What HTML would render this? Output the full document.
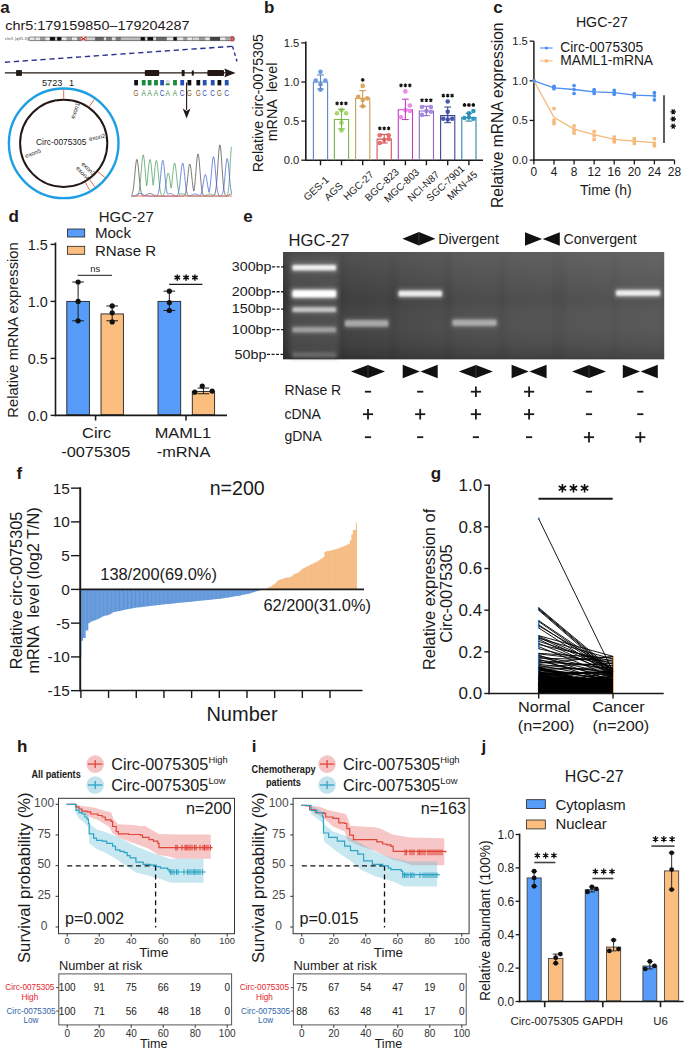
<!DOCTYPE html>
<html><head><meta charset="utf-8"><title>Figure</title>
<style>
html,body{margin:0;padding:0;background:#fff;}
svg{display:block;font-family:"Liberation Sans", sans-serif;}
</style></head><body>
<svg width="685" height="1049" viewBox="0 0 685 1049">
<rect x="0" y="0" width="685" height="1049" fill="#fff"/>
<text x="0.30" y="13.20" font-size="17" text-anchor="start" fill="#231815" font-weight="bold">a</text>
<text x="0" y="0" font-size="13.4" text-anchor="start" fill="#231815" transform="translate(5.30 29.90) scale(1.075 1)">chr5:179159850–179204287</text>
<text x="5.00" y="40.30" font-size="3.8" text-anchor="start" fill="#333" letter-spacing="0.25">chr5 (q35.3)</text>
<rect x="28.60" y="37.00" width="205.80" height="3.60" fill="#8a8a8a" stroke="none" stroke-width="1"/>
<rect x="29.30" y="37.00" width="5.20" height="3.60" fill="#e6e6e6" stroke="none" stroke-width="1"/>
<rect x="35.40" y="37.00" width="4.80" height="3.60" fill="#e6e6e6" stroke="none" stroke-width="1"/>
<rect x="40.20" y="37.00" width="5.20" height="3.60" fill="#9a9a9a" stroke="none" stroke-width="1"/>
<rect x="45.40" y="37.00" width="4.30" height="3.60" fill="#e6e6e6" stroke="none" stroke-width="1"/>
<rect x="50.10" y="37.00" width="4.80" height="3.60" fill="#111" stroke="none" stroke-width="1"/>
<rect x="55.40" y="37.00" width="1.40" height="3.60" fill="#ddd" stroke="none" stroke-width="1"/>
<rect x="57.30" y="37.00" width="3.70" height="3.60" fill="#111" stroke="none" stroke-width="1"/>
<rect x="62.00" y="37.00" width="4.70" height="3.60" fill="#e6e6e6" stroke="none" stroke-width="1"/>
<rect x="67.20" y="37.00" width="4.30" height="3.60" fill="#a0a0a0" stroke="none" stroke-width="1"/>
<rect x="72.00" y="37.00" width="5.20" height="3.60" fill="#e6e6e6" stroke="none" stroke-width="1"/>
<rect x="77.70" y="37.00" width="2.80" height="3.60" fill="#888" stroke="none" stroke-width="1"/>
<rect x="86.50" y="37.00" width="8.70" height="3.60" fill="#cfcfcf" stroke="none" stroke-width="1"/>
<rect x="95.20" y="37.00" width="8.20" height="3.60" fill="#666" stroke="none" stroke-width="1"/>
<rect x="104.00" y="37.00" width="2.30" height="3.60" fill="#ddd" stroke="none" stroke-width="1"/>
<rect x="106.30" y="37.00" width="5.20" height="3.60" fill="#777" stroke="none" stroke-width="1"/>
<rect x="112.00" y="37.00" width="3.60" height="3.60" fill="#e0e0e0" stroke="none" stroke-width="1"/>
<rect x="116.00" y="37.00" width="4.50" height="3.60" fill="#777" stroke="none" stroke-width="1"/>
<rect x="121.00" y="37.00" width="19.70" height="3.60" fill="#bdbdbd" stroke="none" stroke-width="1"/>
<rect x="140.70" y="37.00" width="4.10" height="3.60" fill="#111" stroke="none" stroke-width="1"/>
<rect x="145.40" y="37.00" width="1.80" height="3.60" fill="#ddd" stroke="none" stroke-width="1"/>
<rect x="147.70" y="37.00" width="5.30" height="3.60" fill="#111" stroke="none" stroke-width="1"/>
<rect x="153.50" y="37.00" width="2.50" height="3.60" fill="#ddd" stroke="none" stroke-width="1"/>
<rect x="156.00" y="37.00" width="10.80" height="3.60" fill="#6a6a6a" stroke="none" stroke-width="1"/>
<rect x="166.80" y="37.00" width="6.20" height="3.60" fill="#e6e6e6" stroke="none" stroke-width="1"/>
<rect x="173.60" y="37.00" width="3.10" height="3.60" fill="#111" stroke="none" stroke-width="1"/>
<rect x="177.30" y="37.00" width="6.20" height="3.60" fill="#e6e6e6" stroke="none" stroke-width="1"/>
<rect x="183.50" y="37.00" width="3.50" height="3.60" fill="#999" stroke="none" stroke-width="1"/>
<rect x="187.30" y="37.00" width="4.90" height="3.60" fill="#e6e6e6" stroke="none" stroke-width="1"/>
<rect x="192.80" y="37.00" width="6.20" height="3.60" fill="#d5d5d5" stroke="none" stroke-width="1"/>
<rect x="199.00" y="37.00" width="6.00" height="3.60" fill="#999" stroke="none" stroke-width="1"/>
<rect x="205.20" y="37.00" width="4.40" height="3.60" fill="#e6e6e6" stroke="none" stroke-width="1"/>
<rect x="210.20" y="37.00" width="9.90" height="3.60" fill="#444" stroke="none" stroke-width="1"/>
<rect x="220.10" y="37.00" width="5.60" height="3.60" fill="#e6e6e6" stroke="none" stroke-width="1"/>
<rect x="225.70" y="37.00" width="5.30" height="3.60" fill="#aaa" stroke="none" stroke-width="1"/>
<rect x="28.60" y="37.00" width="205.80" height="3.60" fill="none" stroke="#333" stroke-width="0.5" rx="1.5"/>
<path d="M80.8,37 L83.3,38.8 L85.8,37 L85.8,40.6 L83.3,38.8 L80.8,40.6 Z" fill="#b22" stroke="none" stroke-width="1"/>
<rect x="80.80" y="37.00" width="5.00" height="3.60" fill="#fff" stroke="none" stroke-width="1"/>
<path d="M80.8,37 L83.3,38.8 L85.8,37 M80.8,40.6 L83.3,38.8 L85.8,40.6" fill="none" stroke="#c33" stroke-width="1.2"/>
<rect x="231.20" y="36.60" width="2.20" height="4.40" fill="none" stroke="#e33" stroke-width="0.8"/>
<line x1="4.90" y1="62.20" x2="232.50" y2="46.30" stroke="#2b2f8f" stroke-width="1.4" stroke-dasharray="5.3 3.6"/>
<line x1="232.50" y1="46.30" x2="237.00" y2="61.50" stroke="#2b2f8f" stroke-width="1.4" stroke-dasharray="3.5 3"/>
<line x1="4.90" y1="72.90" x2="228.00" y2="72.90" stroke="#231815" stroke-width="1.1"/>
<rect x="16.10" y="70.10" width="5.80" height="5.80" fill="#231815" stroke="none" stroke-width="1"/>
<rect x="144.80" y="70.00" width="14.40" height="6.10" fill="#231815" stroke="none" stroke-width="1" rx="1"/>
<rect x="181.70" y="70.00" width="2.90" height="6.10" fill="#231815" stroke="none" stroke-width="1"/>
<rect x="191.80" y="70.50" width="2.00" height="5.10" fill="#231815" stroke="none" stroke-width="1"/>
<rect x="207.40" y="70.00" width="16.60" height="6.10" fill="#231815" stroke="none" stroke-width="1" rx="1"/>
<path d="M224.4,68.6 L235.6,72.9 L224.4,77.2 L225.8,72.9 Z" fill="#231815" stroke="none" stroke-width="1"/>
<rect x="134.20" y="80.00" width="3.80" height="5.40" fill="#111" stroke="none" stroke-width="1"/>
<text x="0" y="0" font-size="8.8" text-anchor="middle" fill="#8a5a26" transform="translate(136.10 96.10) scale(0.74 1)">G</text>
<rect x="141.80" y="80.00" width="3.80" height="5.40" fill="#1a8a3c" stroke="none" stroke-width="1"/>
<text x="0" y="0" font-size="8.8" text-anchor="middle" fill="#2f8c42" transform="translate(143.70 96.10) scale(0.74 1)">A</text>
<rect x="147.70" y="80.00" width="3.80" height="5.40" fill="#1a8a3c" stroke="none" stroke-width="1"/>
<text x="0" y="0" font-size="8.8" text-anchor="middle" fill="#2f8c42" transform="translate(149.60 96.10) scale(0.74 1)">A</text>
<rect x="154.10" y="80.00" width="3.80" height="5.40" fill="#1a8a3c" stroke="none" stroke-width="1"/>
<text x="0" y="0" font-size="8.8" text-anchor="middle" fill="#2f8c42" transform="translate(156.00 96.10) scale(0.74 1)">A</text>
<rect x="160.20" y="80.00" width="3.80" height="5.40" fill="#2450b8" stroke="none" stroke-width="1"/>
<text x="0" y="0" font-size="8.8" text-anchor="middle" fill="#2e4abc" transform="translate(162.10 96.10) scale(0.74 1)">C</text>
<rect x="165.80" y="80.00" width="3.80" height="3.20" fill="#ddd" stroke="none" stroke-width="1"/>
<rect x="165.80" y="83.40" width="3.80" height="1.80" fill="#1a8a3c" stroke="none" stroke-width="1"/>
<text x="0" y="0" font-size="8.8" text-anchor="middle" fill="#2f8c42" transform="translate(167.70 96.10) scale(0.74 1)">A</text>
<rect x="173.10" y="80.00" width="3.80" height="5.40" fill="#1a8a3c" stroke="none" stroke-width="1"/>
<text x="0" y="0" font-size="8.8" text-anchor="middle" fill="#2f8c42" transform="translate(175.00 96.10) scale(0.74 1)">A</text>
<rect x="180.30" y="80.00" width="3.80" height="5.40" fill="#2450b8" stroke="none" stroke-width="1"/>
<text x="0" y="0" font-size="8.8" text-anchor="middle" fill="#2e4abc" transform="translate(182.20 96.10) scale(0.74 1)">C</text>
<rect x="187.50" y="80.00" width="3.80" height="5.40" fill="#111" stroke="none" stroke-width="1"/>
<text x="0" y="0" font-size="8.8" text-anchor="middle" fill="#8a5a26" transform="translate(189.40 96.10) scale(0.74 1)">G</text>
<rect x="196.40" y="80.00" width="3.80" height="5.40" fill="#111" stroke="none" stroke-width="1"/>
<text x="0" y="0" font-size="8.8" text-anchor="middle" fill="#8a5a26" transform="translate(198.30 96.10) scale(0.74 1)">G</text>
<rect x="202.80" y="80.00" width="3.80" height="5.40" fill="#2450b8" stroke="none" stroke-width="1"/>
<text x="0" y="0" font-size="8.8" text-anchor="middle" fill="#2e4abc" transform="translate(204.70 96.10) scale(0.74 1)">C</text>
<rect x="210.80" y="80.00" width="3.80" height="5.40" fill="#2450b8" stroke="none" stroke-width="1"/>
<text x="0" y="0" font-size="8.8" text-anchor="middle" fill="#2e4abc" transform="translate(212.70 96.10) scale(0.74 1)">C</text>
<rect x="217.50" y="80.00" width="3.80" height="5.40" fill="#111" stroke="none" stroke-width="1"/>
<text x="0" y="0" font-size="8.8" text-anchor="middle" fill="#8a5a26" transform="translate(219.40 96.10) scale(0.74 1)">G</text>
<rect x="224.80" y="80.00" width="3.80" height="5.40" fill="#2450b8" stroke="none" stroke-width="1"/>
<text x="0" y="0" font-size="8.8" text-anchor="middle" fill="#2e4abc" transform="translate(226.70 96.10) scale(0.74 1)">C</text>
<line x1="186.60" y1="82.50" x2="186.60" y2="110.00" stroke="#231815" stroke-width="1.1"/>
<path d="M182.7,108.5 L186.6,118.5 L190.5,108.5 L186.6,111 Z" fill="#231815" stroke="none" stroke-width="1"/>
<circle cx="63.70" cy="143.30" r="54.80" fill="none" stroke="#1e9fe3" stroke-width="2.4"/>
<circle cx="63.70" cy="143.30" r="43.60" fill="none" stroke="#231815" stroke-width="2.0"/>
<line x1="63.70" y1="98.70" x2="63.70" y2="89.70" stroke="#ee6a3c" stroke-width="1.0"/>
<line x1="89.22" y1="106.72" x2="94.37" y2="99.34" stroke="#ee6a3c" stroke-width="1.0"/>
<line x1="98.02" y1="171.79" x2="104.94" y2="177.54" stroke="#ee6a3c" stroke-width="1.0"/>
<line x1="89.66" y1="179.56" x2="94.90" y2="186.88" stroke="#ee6a3c" stroke-width="1.0"/>
<line x1="85.32" y1="182.31" x2="89.69" y2="190.18" stroke="#ee6a3c" stroke-width="1.0"/>
<text x="42.00" y="85.90" font-size="9.2" text-anchor="start" fill="#231815">5723</text>
<text x="69.00" y="85.90" font-size="9.2" text-anchor="start" fill="#231815">1</text>
<text x="61.20" y="144.60" font-size="8.4" text-anchor="middle" fill="#231815">Circ-0075305</text>
<text x="74.30" y="119.00" font-size="6.0" text-anchor="start" fill="#231815" transform="rotate(-70 74.3 119.0)">exon1</text>
<text x="89.60" y="141.00" font-size="6.0" text-anchor="start" fill="#231815" transform="rotate(-12 89.6 141.0)">exon2</text>
<text x="81.00" y="164.60" font-size="6.0" text-anchor="start" fill="#231815" transform="rotate(43 81.0 164.6)">exon3</text>
<text x="75.80" y="168.60" font-size="6.0" text-anchor="start" fill="#231815" transform="rotate(47 75.8 168.6)">exon4</text>
<text x="26.00" y="158.00" font-size="6.0" text-anchor="start" fill="#231815" transform="rotate(-20 26.0 158.0)">exon5</text>
<polyline points="131.50,195.24 131.89,194.61 132.27,193.67 132.66,192.32 133.04,190.47 133.43,188.04 133.81,185.00 134.20,181.40 134.59,177.35 134.97,173.08 135.36,168.87 135.74,165.07 136.13,162.03 136.51,160.08 136.90,159.40 137.29,160.08 137.67,162.04 138.06,165.08 138.44,168.88 138.83,173.09 139.22,177.37 139.60,181.42 139.99,185.02 140.37,188.05 140.76,190.48 141.14,192.33 141.53,193.68 141.92,194.61 142.30,195.24 142.69,195.64 143.07,195.89 143.46,195.95 143.84,195.87 144.23,195.78 144.62,195.66 145.00,195.53 145.39,195.37 145.77,195.20 146.16,195.01 146.55,194.81 146.93,194.60 147.32,194.39 147.70,194.19 148.09,194.00 148.47,193.83 148.86,193.69 149.25,193.58 149.63,193.52 150.02,193.50 150.40,193.52 150.79,193.59 151.17,193.70 151.56,193.84 151.95,194.01 152.33,194.20 152.72,194.41 153.10,194.62 153.49,194.83 153.87,195.03 154.26,195.22 154.65,195.39 155.03,195.54 155.42,195.67 155.80,195.78 156.19,195.88 156.57,195.96 156.96,196.02 157.35,196.07 157.73,196.10 158.12,196.13 158.50,196.15 158.89,196.17 159.28,196.18 159.66,196.18 160.05,196.19 160.43,196.19 160.82,196.20 161.20,196.20 161.59,196.20 161.98,196.20 162.36,196.20 162.75,196.20 163.13,196.20 163.52,196.20 163.90,196.20 164.29,196.20 164.68,196.20 165.06,196.20 165.45,196.20 165.83,196.20 166.22,196.20 166.61,196.20 166.99,196.20 167.38,196.20 167.76,196.20 168.15,196.20 168.53,196.20 168.92,196.20 169.31,196.20 169.69,196.20 170.08,196.20 170.46,196.20 170.85,196.20 171.23,196.20 171.62,196.20 172.01,196.20 172.39,196.20 172.78,196.20 173.16,196.20 173.55,196.20 173.93,196.20 174.32,196.20 174.71,196.20 175.09,196.20 175.48,196.20 175.86,196.20 176.25,196.20 176.63,196.20 177.02,196.20 177.41,196.20 177.79,196.20 178.18,196.20 178.56,196.20 178.95,196.20 179.34,196.20 179.72,196.20 180.11,196.20 180.49,196.20 180.88,196.20 181.26,196.20 181.65,196.19 182.04,196.18 182.42,196.16 182.81,196.13 183.19,196.06 183.58,195.94 183.96,195.74 184.35,195.41 184.74,194.89 185.12,194.11 185.51,192.98 185.89,191.42 186.28,189.36 186.67,186.77 187.05,183.68 187.44,180.18 187.82,176.45 188.21,172.74 188.59,169.35 188.98,166.60 189.37,164.75 189.75,164.01 190.14,164.45 190.52,166.04 190.91,168.58 191.29,171.84 191.68,175.50 192.07,179.25 192.45,182.83 192.84,186.04 193.22,188.76 193.61,190.95 193.99,190.51 194.38,187.98 194.77,184.75 195.15,180.85 195.54,176.38 195.92,171.53 196.31,166.61 196.69,162.01 197.08,158.14 197.47,155.38 197.85,154.02 198.24,154.20 198.62,155.91 199.01,158.96 199.40,163.04 199.78,167.75 200.17,172.68 200.55,177.47 200.94,181.83 201.32,185.57 201.71,188.63 202.10,191.00 202.48,192.76 202.87,194.01 203.25,194.86 203.64,195.41 204.02,195.75 204.41,195.95 204.80,196.07 205.18,196.13 205.57,196.17 205.95,196.18 206.34,196.19 206.73,196.20 207.11,196.20 207.50,196.20 207.88,196.20 208.27,196.20 208.65,196.20 209.04,196.20 209.43,196.20 209.81,196.20 210.20,196.20 210.58,196.20 210.97,196.20 211.35,196.19 211.74,196.19 212.13,196.17 212.51,196.14 212.90,196.09 213.28,195.98 213.67,195.80 214.05,195.48 214.44,194.96 214.83,194.14 215.21,192.91 215.60,191.12 215.98,188.64 216.37,185.38 216.75,181.27 217.14,176.35 217.53,170.78 217.91,164.83 218.30,158.90 218.68,153.48 219.07,149.04 219.46,146.05 219.84,144.82 220.23,145.48 220.61,147.96 221.00,152.00 221.38,157.17 221.77,163.00 222.16,168.99 222.54,174.71 222.93,179.85 223.31,184.22 223.70,187.74 224.08,190.44 224.47,192.42 224.86,193.81 225.24,194.75 225.63,195.35 226.01,195.72 226.40,195.94 226.79,195.96 227.17,195.85 227.56,195.70 227.94,195.52 228.33,195.30 228.71,195.06 229.10,194.80 229.49,194.55 229.87,194.32 230.26,194.15 230.64,194.03 231.03,194.00 231.41,194.05 231.80,194.17" fill="none" stroke="#444" stroke-width="0.7"/>
<polyline points="131.50,196.20 131.89,196.20 132.27,196.20 132.66,196.20 133.04,196.20 133.43,196.20 133.81,196.20 134.20,196.20 134.59,196.20 134.97,196.19 135.36,196.18 135.74,196.16 136.13,196.12 136.51,196.04 136.90,195.91 137.29,195.68 137.67,195.29 138.06,194.68 138.44,193.75 138.83,192.40 139.22,190.51 139.60,188.00 139.99,184.81 140.37,180.96 140.76,176.55 141.14,171.79 141.53,166.99 141.92,162.51 142.30,158.77 142.69,156.14 143.07,154.88 143.46,155.15 143.84,156.90 144.23,159.95 144.62,163.98 145.00,168.61 145.39,173.44 145.77,178.11 146.16,182.34 146.55,185.98 146.93,184.86 147.32,181.24 147.70,177.18 148.09,172.90 148.47,168.70 148.86,164.92 149.25,161.93 149.63,160.02 150.02,159.40 150.40,160.14 150.79,162.15 151.17,165.23 151.56,169.05 151.95,173.27 152.33,177.55 152.72,181.58 153.10,185.16 153.49,183.75 153.87,180.02 154.26,175.94 154.65,171.76 155.03,167.79 155.42,164.38 155.80,161.86 156.19,160.50 156.57,160.44 156.96,161.68 157.35,164.10 157.73,167.44 158.12,171.38 158.50,175.56 158.89,179.66 159.28,183.43 159.66,186.70 160.05,189.39 160.43,191.50 160.82,193.07 161.20,194.19 161.59,194.96 161.98,195.46 162.36,195.78 162.75,195.64 163.13,195.26 163.52,194.70 163.90,193.89 164.29,192.77 164.68,191.29 165.06,189.43 165.45,187.20 165.83,184.68 166.22,181.99 166.61,179.32 166.99,176.88 167.38,174.89 167.76,173.55 168.15,173.01 168.53,173.32 168.92,174.45 169.31,176.29 169.69,178.63 170.08,181.26 170.46,183.97 170.85,186.55 171.23,188.14 171.62,185.26 172.01,181.89 172.39,178.15 172.78,174.28 173.16,170.55 173.55,167.28 173.93,164.79 174.32,163.32 174.71,163.05 175.09,163.99 175.48,166.05 175.86,169.01 176.25,172.57 176.63,176.42 177.02,180.24 177.41,183.80 177.79,186.91 178.18,189.50 178.56,191.54 178.95,193.08 179.34,194.19 179.72,194.40 180.11,194.23 180.49,194.08 180.88,193.96 181.26,193.87 181.65,193.82 182.04,193.80 182.42,193.82 182.81,193.89 183.19,193.98 183.58,194.11 183.96,194.26 184.35,194.43 184.74,194.62 185.12,194.80 185.51,194.99 185.89,195.17 186.28,195.33 186.67,195.48 187.05,195.62 187.44,195.74 187.82,195.83 188.21,195.92 188.59,195.99 188.98,196.04 189.37,196.08 189.75,196.11 190.14,196.14 190.52,196.16 190.91,196.17 191.29,196.18 191.68,196.19 192.07,196.19 192.45,196.19 192.84,196.20 193.22,196.20 193.61,196.20 193.99,196.20 194.38,196.20 194.77,196.20 195.15,196.20 195.54,196.20 195.92,196.20 196.31,196.20 196.69,196.20 197.08,196.20 197.47,196.20 197.85,196.20 198.24,196.20 198.62,196.20 199.01,196.20 199.40,196.20 199.78,196.19 200.17,196.19 200.55,196.18 200.94,196.18 201.32,196.17 201.71,196.15 202.10,196.13 202.48,196.10 202.87,196.07 203.25,196.02 203.64,195.97 204.02,195.90 204.41,195.81 204.80,195.71 205.18,195.59 205.57,195.46 205.95,195.31 206.34,195.16 206.73,194.99 207.11,194.82 207.50,194.65 207.88,194.49 208.27,194.34 208.65,194.21 209.04,194.11 209.43,194.04 209.81,194.00 210.20,194.00 210.58,194.04 210.97,194.11 211.35,194.21 211.74,194.34 212.13,194.49 212.51,194.65 212.90,194.82 213.28,194.99 213.67,195.16 214.05,195.32 214.44,195.46 214.83,195.60 215.21,195.71 215.60,195.81 215.98,195.90 216.37,195.97 216.75,196.03 217.14,196.07 217.53,196.11 217.91,196.13 218.30,196.15 218.68,196.17 219.07,196.18 219.46,196.18 219.84,196.19 220.23,196.19 220.61,196.20 221.00,196.20 221.38,196.20 221.77,196.20 222.16,196.20 222.54,196.20 222.93,196.20 223.31,196.20 223.70,196.20 224.08,196.20 224.47,196.20 224.86,196.19 225.24,196.19 225.63,196.16 226.01,196.11 226.40,195.99 226.79,195.76 227.17,195.30 227.56,194.47 227.94,193.05 228.33,190.82 228.71,187.51 229.10,182.96 229.49,177.17 229.87,170.39 230.26,163.18 230.64,156.33 231.03,150.78 231.41,147.38 231.80,146.70" fill="none" stroke="#3f9a52" stroke-width="0.7"/>
<polyline points="131.50,196.15 131.89,196.13 132.27,196.10 132.66,196.06 133.04,196.02 133.43,195.95 133.81,195.88 134.20,195.78 134.59,195.67 134.97,195.54 135.36,195.38 135.74,195.21 136.13,195.03 136.51,194.82 136.90,194.62 137.29,194.41 137.67,194.20 138.06,194.01 138.44,193.84 138.83,193.70 139.22,193.59 139.60,193.52 139.99,193.50 140.37,193.52 140.76,193.58 141.14,193.69 141.53,193.83 141.92,194.00 142.30,194.19 142.69,194.39 143.07,194.60 143.46,194.81 143.84,195.01 144.23,195.20 144.62,195.37 145.00,195.53 145.39,195.66 145.77,195.78 146.16,195.87 146.55,195.95 146.93,196.01 147.32,196.06 147.70,196.10 148.09,196.13 148.47,196.15 148.86,196.17 149.25,196.18 149.63,196.18 150.02,196.19 150.40,196.19 150.79,196.20 151.17,196.20 151.56,196.20 151.95,196.20 152.33,196.20 152.72,196.20 153.10,196.20 153.49,196.20 153.87,196.20 154.26,196.20 154.65,196.19 155.03,196.18 155.42,196.16 155.80,196.12 156.19,196.05 156.57,195.92 156.96,195.69 157.35,195.33 157.73,194.75 158.12,193.88 158.50,192.63 158.89,190.89 159.28,188.60 159.66,185.72 160.05,182.28 160.43,178.38 160.82,174.22 161.20,170.09 161.59,166.30 161.98,163.22 162.36,161.15 162.75,160.31 163.13,160.79 163.52,162.55 163.90,165.38 164.29,169.00 164.68,173.08 165.06,177.26 165.45,181.25 165.83,184.84 166.22,187.87 166.61,190.32 166.99,192.20 167.38,193.58 167.76,194.16 168.15,193.97 168.53,193.80 168.92,193.67 169.31,193.57 169.69,193.51 170.08,193.50 170.46,193.53 170.85,193.61 171.23,193.72 171.62,193.87 172.01,194.04 172.39,194.23 172.78,194.44 173.16,194.65 173.55,194.86 173.93,195.06 174.32,195.24 174.71,195.41 175.09,195.56 175.48,195.69 175.86,195.80 176.25,195.89 176.63,195.87 177.02,195.61 177.41,195.20 177.79,194.56 178.18,193.62 178.56,192.29 178.95,190.48 179.34,188.14 179.72,185.25 180.11,181.87 180.49,178.14 180.88,174.27 181.26,170.54 181.65,167.27 182.04,164.78 182.42,163.32 182.81,163.05 183.19,163.99 183.58,166.06 183.96,169.02 184.35,172.58 184.74,176.43 185.12,180.25 185.51,183.81 185.89,186.92 186.28,189.51 186.67,191.55 187.05,193.08 187.44,194.19 187.82,194.95 188.21,195.45 188.59,195.77 188.98,195.91 189.37,195.82 189.75,195.72 190.14,195.61 190.52,195.48 190.91,195.33 191.29,195.17 191.68,195.01 192.07,194.84 192.45,194.67 192.84,194.50 193.22,194.35 193.61,194.22 193.99,194.12 194.38,194.05 194.77,194.01 195.15,194.00 195.54,194.04 195.92,194.10 196.31,194.20 196.69,194.32 197.08,194.47 197.47,194.63 197.85,194.80 198.24,194.97 198.62,195.14 199.01,195.30 199.40,195.45 199.78,195.58 200.17,195.39 200.55,194.90 200.94,194.19 201.32,193.19 201.71,191.87 202.10,190.19 202.48,188.16 202.87,185.84 203.25,183.35 203.64,180.83 204.02,178.49 204.41,176.54 204.80,175.18 205.18,174.54 205.57,174.69 205.95,175.63 206.34,177.24 206.73,179.36 207.11,181.80 207.50,184.33 207.88,186.77 208.27,188.99 208.65,190.88 209.04,192.42 209.43,191.23 209.81,188.97 210.20,186.07 210.58,182.53 210.97,178.43 211.35,173.93 211.74,169.31 212.13,164.93 212.51,161.15 212.90,158.36 213.28,156.83 213.67,156.74 214.05,158.09 214.44,160.74 214.83,164.42 215.21,168.75 215.60,173.35 215.98,177.88 216.37,182.05 216.75,185.67 217.14,188.65 217.53,190.98 217.91,192.73 218.30,193.97 218.68,194.82 219.07,195.38 219.46,195.73 219.84,195.94 220.23,196.06 220.61,196.03 221.00,195.89 221.38,195.65 221.77,195.25 222.16,194.63 222.54,193.70 222.93,192.35 223.31,190.50 223.70,188.06 224.08,184.99 224.47,181.35 224.86,177.23 225.24,172.85 225.63,168.52 226.01,164.58 226.40,161.40 226.79,159.30 227.17,158.50 227.56,159.09 227.94,161.01 228.33,164.04 228.71,167.89 229.10,172.19 229.49,176.58 229.87,180.75 230.26,184.48 230.64,187.63 231.03,190.17 231.41,192.11 231.80,193.52" fill="none" stroke="#3a5ccc" stroke-width="0.7"/>
<line x1="131.50" y1="196.00" x2="231.80" y2="196.00" stroke="#e86a6a" stroke-width="1.0"/>
<text x="264.00" y="13.00" font-size="17" text-anchor="start" fill="#231815" font-weight="bold">b</text>
<line x1="305.80" y1="41.60" x2="305.80" y2="160.95" stroke="#1a1a1a" stroke-width="1.6"/>
<line x1="305.00" y1="160.20" x2="483.00" y2="160.20" stroke="#1a1a1a" stroke-width="1.6"/>
<line x1="301.30" y1="160.20" x2="305.80" y2="160.20" stroke="#1a1a1a" stroke-width="1.3"/>
<text x="299.30" y="164.00" font-size="11.2" text-anchor="end" fill="#1a1a1a">0.0</text>
<line x1="301.30" y1="121.10" x2="305.80" y2="121.10" stroke="#1a1a1a" stroke-width="1.3"/>
<text x="299.30" y="124.90" font-size="11.2" text-anchor="end" fill="#1a1a1a">0.5</text>
<line x1="301.30" y1="82.00" x2="305.80" y2="82.00" stroke="#1a1a1a" stroke-width="1.3"/>
<text x="299.30" y="85.80" font-size="11.2" text-anchor="end" fill="#1a1a1a">1.0</text>
<line x1="301.30" y1="42.90" x2="305.80" y2="42.90" stroke="#1a1a1a" stroke-width="1.3"/>
<text x="299.30" y="46.70" font-size="11.2" text-anchor="end" fill="#1a1a1a">1.5</text>
<text x="263.00" y="103.20" font-size="14.3" text-anchor="middle" fill="#1a1a1a" transform="rotate(-90 263.0 103.2)">Relative circ-0075305</text>
<text x="277.40" y="102.00" font-size="14.3" text-anchor="middle" fill="#1a1a1a" transform="rotate(-90 277.4 102.0)" xml:space="preserve">mRNA  level</text>
<path d="M313.40,160.20 L313.40,82.00 L327.60,82.00 L327.60,160.20" fill="none" stroke="#5b86c8" stroke-width="1.1"/>
<circle cx="320.50" cy="71.83" r="2.30" fill="#6d9be0" stroke="none" stroke-width="1"/>
<circle cx="315.70" cy="80.44" r="2.30" fill="#6d9be0" stroke="none" stroke-width="1"/>
<circle cx="325.30" cy="80.44" r="2.30" fill="#6d9be0" stroke="none" stroke-width="1"/>
<circle cx="320.50" cy="84.35" r="2.30" fill="#6d9be0" stroke="none" stroke-width="1"/>
<circle cx="320.50" cy="89.82" r="2.30" fill="#6d9be0" stroke="none" stroke-width="1"/>
<line x1="320.50" y1="74.96" x2="320.50" y2="89.04" stroke="#5b86c8" stroke-width="1.1"/>
<line x1="317.10" y1="74.96" x2="323.90" y2="74.96" stroke="#5b86c8" stroke-width="1.1"/>
<line x1="317.10" y1="89.04" x2="323.90" y2="89.04" stroke="#5b86c8" stroke-width="1.1"/>
<line x1="320.50" y1="160.20" x2="320.50" y2="165.30" stroke="#1a1a1a" stroke-width="1.4"/>
<text x="318.50" y="191.00" font-size="10.1" text-anchor="middle" fill="#1a1a1a" transform="rotate(-43 318.5 191.0)">GES-1</text>
<path d="M334.40,160.20 L334.40,119.54 L348.60,119.54 L348.60,160.20" fill="none" stroke="#7ab648" stroke-width="1.1"/>
<circle cx="341.50" cy="110.15" r="2.30" fill="#a5d86e" stroke="none" stroke-width="1"/>
<circle cx="336.90" cy="113.28" r="2.30" fill="#a5d86e" stroke="none" stroke-width="1"/>
<circle cx="346.10" cy="113.28" r="2.30" fill="#a5d86e" stroke="none" stroke-width="1"/>
<circle cx="341.50" cy="122.66" r="2.30" fill="#a5d86e" stroke="none" stroke-width="1"/>
<circle cx="341.50" cy="130.48" r="2.30" fill="#a5d86e" stroke="none" stroke-width="1"/>
<line x1="341.50" y1="109.37" x2="341.50" y2="128.92" stroke="#7ab648" stroke-width="1.1"/>
<line x1="338.10" y1="109.37" x2="344.90" y2="109.37" stroke="#7ab648" stroke-width="1.1"/>
<line x1="338.10" y1="128.92" x2="344.90" y2="128.92" stroke="#7ab648" stroke-width="1.1"/>
<line x1="341.50" y1="160.20" x2="341.50" y2="165.30" stroke="#1a1a1a" stroke-width="1.4"/>
<path d="M337.10,101.52L337.10,105.22M335.50,102.44L338.70,104.29M338.70,102.44L335.50,104.29" fill="none" stroke="#111" stroke-width="1.25"/>
<circle cx="337.10" cy="103.37" r="0.70" fill="#111" stroke="none" stroke-width="1"/>
<path d="M341.50,101.52L341.50,105.22M339.90,102.44L343.10,104.29M343.10,102.44L339.90,104.29" fill="none" stroke="#111" stroke-width="1.25"/>
<circle cx="341.50" cy="103.37" r="0.70" fill="#111" stroke="none" stroke-width="1"/>
<path d="M345.90,101.52L345.90,105.22M344.30,102.44L347.50,104.29M347.50,102.44L344.30,104.29" fill="none" stroke="#111" stroke-width="1.25"/>
<circle cx="345.90" cy="103.37" r="0.70" fill="#111" stroke="none" stroke-width="1"/>
<text x="336.00" y="193.90" font-size="10.1" text-anchor="middle" fill="#1a1a1a" transform="rotate(-43 336.0 193.9)">AGS</text>
<path d="M355.60,160.20 L355.60,98.42 L369.80,98.42 L369.80,160.20" fill="none" stroke="#c99a5a" stroke-width="1.1"/>
<circle cx="362.70" cy="85.91" r="2.30" fill="#e0a75a" stroke="none" stroke-width="1"/>
<circle cx="358.20" cy="96.86" r="2.30" fill="#e0a75a" stroke="none" stroke-width="1"/>
<circle cx="367.20" cy="98.42" r="2.30" fill="#e0a75a" stroke="none" stroke-width="1"/>
<circle cx="362.70" cy="99.99" r="2.30" fill="#e0a75a" stroke="none" stroke-width="1"/>
<circle cx="362.70" cy="106.24" r="2.30" fill="#e0a75a" stroke="none" stroke-width="1"/>
<line x1="362.70" y1="90.60" x2="362.70" y2="106.24" stroke="#c99a5a" stroke-width="1.1"/>
<line x1="359.30" y1="90.60" x2="366.10" y2="90.60" stroke="#c99a5a" stroke-width="1.1"/>
<line x1="359.30" y1="106.24" x2="366.10" y2="106.24" stroke="#c99a5a" stroke-width="1.1"/>
<line x1="362.70" y1="160.20" x2="362.70" y2="165.30" stroke="#1a1a1a" stroke-width="1.4"/>
<path d="M362.70,78.06L362.70,81.76M361.10,78.98L364.30,80.83M364.30,78.98L361.10,80.83" fill="none" stroke="#111" stroke-width="1.25"/>
<circle cx="362.70" cy="79.91" r="0.70" fill="#111" stroke="none" stroke-width="1"/>
<text x="360.80" y="188.10" font-size="10.1" text-anchor="middle" fill="#1a1a1a" transform="rotate(-43 360.8 188.1)">HGC-27</text>
<path d="M377.10,160.20 L377.10,139.09 L391.30,139.09 L391.30,160.20" fill="none" stroke="#d0505a" stroke-width="1.1"/>
<circle cx="379.70" cy="135.18" r="2.30" fill="#e57070" stroke="none" stroke-width="1"/>
<circle cx="388.70" cy="135.18" r="2.30" fill="#e57070" stroke="none" stroke-width="1"/>
<circle cx="384.20" cy="139.87" r="2.30" fill="#e57070" stroke="none" stroke-width="1"/>
<circle cx="379.70" cy="143.00" r="2.30" fill="#e57070" stroke="none" stroke-width="1"/>
<circle cx="388.70" cy="139.09" r="2.30" fill="#e57070" stroke="none" stroke-width="1"/>
<line x1="384.20" y1="134.39" x2="384.20" y2="143.00" stroke="#d0505a" stroke-width="1.1"/>
<line x1="380.80" y1="134.39" x2="387.60" y2="134.39" stroke="#d0505a" stroke-width="1.1"/>
<line x1="380.80" y1="143.00" x2="387.60" y2="143.00" stroke="#d0505a" stroke-width="1.1"/>
<line x1="384.20" y1="160.20" x2="384.20" y2="165.30" stroke="#1a1a1a" stroke-width="1.4"/>
<path d="M379.80,126.54L379.80,130.24M378.20,127.47L381.40,129.32M381.40,127.47L378.20,129.32" fill="none" stroke="#111" stroke-width="1.25"/>
<circle cx="379.80" cy="128.39" r="0.70" fill="#111" stroke="none" stroke-width="1"/>
<path d="M384.20,126.54L384.20,130.24M382.60,127.47L385.80,129.32M385.80,127.47L382.60,129.32" fill="none" stroke="#111" stroke-width="1.25"/>
<circle cx="384.20" cy="128.39" r="0.70" fill="#111" stroke="none" stroke-width="1"/>
<path d="M388.60,126.54L388.60,130.24M387.00,127.47L390.20,129.32M390.20,127.47L387.00,129.32" fill="none" stroke="#111" stroke-width="1.25"/>
<circle cx="388.60" cy="128.39" r="0.70" fill="#111" stroke="none" stroke-width="1"/>
<text x="384.20" y="187.30" font-size="10.1" text-anchor="middle" fill="#1a1a1a" transform="rotate(-43 384.2 187.3)">BGC-823</text>
<path d="M398.30,160.20 L398.30,109.76 L412.50,109.76 L412.50,160.20" fill="none" stroke="#c040c0" stroke-width="1.1"/>
<circle cx="405.40" cy="91.38" r="2.30" fill="#ee88ee" stroke="none" stroke-width="1"/>
<circle cx="409.90" cy="105.46" r="2.30" fill="#ee88ee" stroke="none" stroke-width="1"/>
<circle cx="405.40" cy="110.15" r="2.30" fill="#ee88ee" stroke="none" stroke-width="1"/>
<circle cx="409.90" cy="110.93" r="2.30" fill="#ee88ee" stroke="none" stroke-width="1"/>
<circle cx="400.90" cy="117.19" r="2.30" fill="#ee88ee" stroke="none" stroke-width="1"/>
<line x1="405.40" y1="99.20" x2="405.40" y2="119.54" stroke="#c040c0" stroke-width="1.1"/>
<line x1="402.00" y1="99.20" x2="408.80" y2="99.20" stroke="#c040c0" stroke-width="1.1"/>
<line x1="402.00" y1="119.54" x2="408.80" y2="119.54" stroke="#c040c0" stroke-width="1.1"/>
<line x1="405.40" y1="160.20" x2="405.40" y2="165.30" stroke="#1a1a1a" stroke-width="1.4"/>
<path d="M401.00,83.53L401.00,87.23M399.40,84.46L402.60,86.31M402.60,84.46L399.40,86.31" fill="none" stroke="#111" stroke-width="1.25"/>
<circle cx="401.00" cy="85.38" r="0.70" fill="#111" stroke="none" stroke-width="1"/>
<path d="M405.40,83.53L405.40,87.23M403.80,84.46L407.00,86.31M407.00,84.46L403.80,86.31" fill="none" stroke="#111" stroke-width="1.25"/>
<circle cx="405.40" cy="85.38" r="0.70" fill="#111" stroke="none" stroke-width="1"/>
<path d="M409.80,83.53L409.80,87.23M408.20,84.46L411.40,86.31M411.40,84.46L408.20,86.31" fill="none" stroke="#111" stroke-width="1.25"/>
<circle cx="409.80" cy="85.38" r="0.70" fill="#111" stroke="none" stroke-width="1"/>
<text x="403.90" y="188.10" font-size="10.1" text-anchor="middle" fill="#1a1a1a" transform="rotate(-43 403.90000000000003 188.1)">MGC-803</text>
<path d="M419.30,160.20 L419.30,110.93 L433.50,110.93 L433.50,160.20" fill="none" stroke="#8a6cc8" stroke-width="1.1"/>
<circle cx="421.90" cy="107.02" r="2.30" fill="#aa8ce0" stroke="none" stroke-width="1"/>
<circle cx="430.90" cy="107.02" r="2.30" fill="#aa8ce0" stroke="none" stroke-width="1"/>
<circle cx="426.40" cy="110.93" r="2.30" fill="#aa8ce0" stroke="none" stroke-width="1"/>
<circle cx="430.90" cy="111.72" r="2.30" fill="#aa8ce0" stroke="none" stroke-width="1"/>
<circle cx="421.90" cy="114.84" r="2.30" fill="#aa8ce0" stroke="none" stroke-width="1"/>
<line x1="426.40" y1="106.24" x2="426.40" y2="115.63" stroke="#8a6cc8" stroke-width="1.1"/>
<line x1="423.00" y1="106.24" x2="429.80" y2="106.24" stroke="#8a6cc8" stroke-width="1.1"/>
<line x1="423.00" y1="115.63" x2="429.80" y2="115.63" stroke="#8a6cc8" stroke-width="1.1"/>
<line x1="426.40" y1="160.20" x2="426.40" y2="165.30" stroke="#1a1a1a" stroke-width="1.4"/>
<path d="M422.00,98.39L422.00,102.09M420.40,99.32L423.60,101.17M423.60,99.32L420.40,101.17" fill="none" stroke="#111" stroke-width="1.25"/>
<circle cx="422.00" cy="100.24" r="0.70" fill="#111" stroke="none" stroke-width="1"/>
<path d="M426.40,98.39L426.40,102.09M424.80,99.32L428.00,101.17M428.00,99.32L424.80,101.17" fill="none" stroke="#111" stroke-width="1.25"/>
<circle cx="426.40" cy="100.24" r="0.70" fill="#111" stroke="none" stroke-width="1"/>
<path d="M430.80,98.39L430.80,102.09M429.20,99.32L432.40,101.17M432.40,99.32L429.20,101.17" fill="none" stroke="#111" stroke-width="1.25"/>
<circle cx="430.80" cy="100.24" r="0.70" fill="#111" stroke="none" stroke-width="1"/>
<text x="425.80" y="188.80" font-size="10.1" text-anchor="middle" fill="#1a1a1a" transform="rotate(-43 425.8 188.8)">NCI-N87</text>
<path d="M440.60,160.20 L440.60,115.63 L454.80,115.63 L454.80,160.20" fill="none" stroke="#3a4a98" stroke-width="1.1"/>
<circle cx="447.70" cy="101.55" r="2.30" fill="#4a5aaa" stroke="none" stroke-width="1"/>
<circle cx="447.70" cy="111.72" r="2.30" fill="#4a5aaa" stroke="none" stroke-width="1"/>
<circle cx="443.20" cy="118.75" r="2.30" fill="#4a5aaa" stroke="none" stroke-width="1"/>
<circle cx="447.70" cy="119.54" r="2.30" fill="#4a5aaa" stroke="none" stroke-width="1"/>
<circle cx="452.20" cy="118.75" r="2.30" fill="#4a5aaa" stroke="none" stroke-width="1"/>
<line x1="447.70" y1="107.02" x2="447.70" y2="122.66" stroke="#3a4a98" stroke-width="1.1"/>
<line x1="444.30" y1="107.02" x2="451.10" y2="107.02" stroke="#3a4a98" stroke-width="1.1"/>
<line x1="444.30" y1="122.66" x2="451.10" y2="122.66" stroke="#3a4a98" stroke-width="1.1"/>
<line x1="447.70" y1="160.20" x2="447.70" y2="165.30" stroke="#1a1a1a" stroke-width="1.4"/>
<path d="M443.30,93.70L443.30,97.40M441.70,94.62L444.90,96.47M444.90,94.62L441.70,96.47" fill="none" stroke="#111" stroke-width="1.25"/>
<circle cx="443.30" cy="95.55" r="0.70" fill="#111" stroke="none" stroke-width="1"/>
<path d="M447.70,93.70L447.70,97.40M446.10,94.62L449.30,96.47M449.30,94.62L446.10,96.47" fill="none" stroke="#111" stroke-width="1.25"/>
<circle cx="447.70" cy="95.55" r="0.70" fill="#111" stroke="none" stroke-width="1"/>
<path d="M452.10,93.70L452.10,97.40M450.50,94.62L453.70,96.47M453.70,94.62L450.50,96.47" fill="none" stroke="#111" stroke-width="1.25"/>
<circle cx="452.10" cy="95.55" r="0.70" fill="#111" stroke="none" stroke-width="1"/>
<text x="447.70" y="185.90" font-size="10.1" text-anchor="middle" fill="#1a1a1a" transform="rotate(-43 447.7 185.9)">SGC-7901</text>
<path d="M461.80,160.20 L461.80,117.58 L476.00,117.58 L476.00,160.20" fill="none" stroke="#2a84a8" stroke-width="1.1"/>
<circle cx="473.40" cy="110.93" r="2.30" fill="#2e98c2" stroke="none" stroke-width="1"/>
<circle cx="468.90" cy="113.28" r="2.30" fill="#2e98c2" stroke="none" stroke-width="1"/>
<circle cx="464.40" cy="117.97" r="2.30" fill="#2e98c2" stroke="none" stroke-width="1"/>
<circle cx="468.90" cy="117.19" r="2.30" fill="#2e98c2" stroke="none" stroke-width="1"/>
<circle cx="473.40" cy="118.75" r="2.30" fill="#2e98c2" stroke="none" stroke-width="1"/>
<line x1="468.90" y1="113.28" x2="468.90" y2="121.10" stroke="#2a84a8" stroke-width="1.1"/>
<line x1="465.50" y1="113.28" x2="472.30" y2="113.28" stroke="#2a84a8" stroke-width="1.1"/>
<line x1="465.50" y1="121.10" x2="472.30" y2="121.10" stroke="#2a84a8" stroke-width="1.1"/>
<line x1="468.90" y1="160.20" x2="468.90" y2="165.30" stroke="#1a1a1a" stroke-width="1.4"/>
<path d="M464.50,103.08L464.50,106.78M462.90,104.01L466.10,105.86M466.10,104.01L462.90,105.86" fill="none" stroke="#111" stroke-width="1.25"/>
<circle cx="464.50" cy="104.93" r="0.70" fill="#111" stroke="none" stroke-width="1"/>
<path d="M468.90,103.08L468.90,106.78M467.30,104.01L470.50,105.86M470.50,104.01L467.30,105.86" fill="none" stroke="#111" stroke-width="1.25"/>
<circle cx="468.90" cy="104.93" r="0.70" fill="#111" stroke="none" stroke-width="1"/>
<path d="M473.30,103.08L473.30,106.78M471.70,104.01L474.90,105.86M474.90,104.01L471.70,105.86" fill="none" stroke="#111" stroke-width="1.25"/>
<circle cx="473.30" cy="104.93" r="0.70" fill="#111" stroke="none" stroke-width="1"/>
<text x="464.50" y="188.10" font-size="10.1" text-anchor="middle" fill="#1a1a1a" transform="rotate(-43 464.5 188.1)">MKN-45</text>
<text x="493.30" y="13.40" font-size="17" text-anchor="start" fill="#231815" font-weight="bold">c</text>
<line x1="533.90" y1="41.30" x2="533.90" y2="160.80" stroke="#1a1a1a" stroke-width="1.5"/>
<line x1="533.20" y1="160.10" x2="674.60" y2="160.10" stroke="#1a1a1a" stroke-width="1.5"/>
<line x1="529.60" y1="160.10" x2="533.90" y2="160.10" stroke="#1a1a1a" stroke-width="1.3"/>
<text x="527.80" y="163.90" font-size="11.2" text-anchor="end" fill="#1a1a1a">0.0</text>
<line x1="529.60" y1="120.45" x2="533.90" y2="120.45" stroke="#1a1a1a" stroke-width="1.3"/>
<text x="527.80" y="124.25" font-size="11.2" text-anchor="end" fill="#1a1a1a">0.5</text>
<line x1="529.60" y1="80.80" x2="533.90" y2="80.80" stroke="#1a1a1a" stroke-width="1.3"/>
<text x="527.80" y="84.60" font-size="11.2" text-anchor="end" fill="#1a1a1a">1.0</text>
<line x1="529.60" y1="41.15" x2="533.90" y2="41.15" stroke="#1a1a1a" stroke-width="1.3"/>
<text x="527.80" y="44.95" font-size="11.2" text-anchor="end" fill="#1a1a1a">1.5</text>
<line x1="533.90" y1="160.10" x2="533.90" y2="164.40" stroke="#1a1a1a" stroke-width="1.3"/>
<text x="533.90" y="175.80" font-size="11.9" text-anchor="middle" fill="#1a1a1a">0</text>
<line x1="553.98" y1="160.10" x2="553.98" y2="164.40" stroke="#1a1a1a" stroke-width="1.3"/>
<text x="553.98" y="175.80" font-size="11.9" text-anchor="middle" fill="#1a1a1a">4</text>
<line x1="574.07" y1="160.10" x2="574.07" y2="164.40" stroke="#1a1a1a" stroke-width="1.3"/>
<text x="574.07" y="175.80" font-size="11.9" text-anchor="middle" fill="#1a1a1a">8</text>
<line x1="594.15" y1="160.10" x2="594.15" y2="164.40" stroke="#1a1a1a" stroke-width="1.3"/>
<text x="594.15" y="175.80" font-size="11.9" text-anchor="middle" fill="#1a1a1a">12</text>
<line x1="614.24" y1="160.10" x2="614.24" y2="164.40" stroke="#1a1a1a" stroke-width="1.3"/>
<text x="614.24" y="175.80" font-size="11.9" text-anchor="middle" fill="#1a1a1a">16</text>
<line x1="634.32" y1="160.10" x2="634.32" y2="164.40" stroke="#1a1a1a" stroke-width="1.3"/>
<text x="634.32" y="175.80" font-size="11.9" text-anchor="middle" fill="#1a1a1a">20</text>
<line x1="654.40" y1="160.10" x2="654.40" y2="164.40" stroke="#1a1a1a" stroke-width="1.3"/>
<text x="654.40" y="175.80" font-size="11.9" text-anchor="middle" fill="#1a1a1a">24</text>
<line x1="674.49" y1="160.10" x2="674.49" y2="164.40" stroke="#1a1a1a" stroke-width="1.3"/>
<text x="674.49" y="175.80" font-size="11.9" text-anchor="middle" fill="#1a1a1a">28</text>
<text x="605.80" y="194.60" font-size="14.0" text-anchor="middle" fill="#1a1a1a">Time (h)</text>
<text x="601.90" y="27.00" font-size="14.2" text-anchor="middle" fill="#1a1a1a">HGC-27</text>
<text x="502.80" y="115.20" font-size="15.6" text-anchor="middle" fill="#1a1a1a" transform="rotate(-90 502.8 115.2)">Relative mRNA expression</text>
<path d="M533.90,80.80 L553.98,117.28 L574.07,129.17 L594.15,134.72 L614.24,139.48 L634.32,141.07 L654.40,142.65" fill="none" stroke="#f5b97a" stroke-width="1.3"/>
<rect x="532.20" y="79.10" width="3.40" height="3.40" fill="#f5b97a" stroke="none" stroke-width="1"/>
<rect x="552.28" y="121.92" width="3.40" height="3.40" fill="#f5b97a" stroke="none" stroke-width="1"/>
<rect x="552.28" y="118.75" width="3.40" height="3.40" fill="#f5b97a" stroke="none" stroke-width="1"/>
<rect x="552.28" y="106.85" width="3.40" height="3.40" fill="#f5b97a" stroke="none" stroke-width="1"/>
<rect x="572.37" y="131.44" width="3.40" height="3.40" fill="#f5b97a" stroke="none" stroke-width="1"/>
<rect x="572.37" y="128.27" width="3.40" height="3.40" fill="#f5b97a" stroke="none" stroke-width="1"/>
<rect x="572.37" y="124.30" width="3.40" height="3.40" fill="#f5b97a" stroke="none" stroke-width="1"/>
<rect x="592.45" y="137.78" width="3.40" height="3.40" fill="#f5b97a" stroke="none" stroke-width="1"/>
<rect x="592.45" y="133.82" width="3.40" height="3.40" fill="#f5b97a" stroke="none" stroke-width="1"/>
<rect x="592.45" y="129.85" width="3.40" height="3.40" fill="#f5b97a" stroke="none" stroke-width="1"/>
<rect x="612.54" y="140.16" width="3.40" height="3.40" fill="#f5b97a" stroke="none" stroke-width="1"/>
<rect x="612.54" y="137.78" width="3.40" height="3.40" fill="#f5b97a" stroke="none" stroke-width="1"/>
<rect x="612.54" y="135.40" width="3.40" height="3.40" fill="#f5b97a" stroke="none" stroke-width="1"/>
<rect x="632.62" y="141.75" width="3.40" height="3.40" fill="#f5b97a" stroke="none" stroke-width="1"/>
<rect x="632.62" y="139.37" width="3.40" height="3.40" fill="#f5b97a" stroke="none" stroke-width="1"/>
<rect x="632.62" y="136.99" width="3.40" height="3.40" fill="#f5b97a" stroke="none" stroke-width="1"/>
<rect x="652.70" y="144.13" width="3.40" height="3.40" fill="#f5b97a" stroke="none" stroke-width="1"/>
<rect x="652.70" y="141.75" width="3.40" height="3.40" fill="#f5b97a" stroke="none" stroke-width="1"/>
<rect x="652.70" y="136.99" width="3.40" height="3.40" fill="#f5b97a" stroke="none" stroke-width="1"/>
<path d="M533.90,80.80 L553.98,87.94 L574.07,89.52 L594.15,91.90 L614.24,92.69 L634.32,95.07 L654.40,95.87" fill="none" stroke="#4d8ff0" stroke-width="1.3"/>
<circle cx="533.90" cy="80.80" r="1.85" fill="#4d8ff0" stroke="none" stroke-width="1"/>
<circle cx="553.98" cy="88.73" r="1.85" fill="#4d8ff0" stroke="none" stroke-width="1"/>
<circle cx="553.98" cy="87.14" r="1.85" fill="#4d8ff0" stroke="none" stroke-width="1"/>
<circle cx="553.98" cy="86.35" r="1.85" fill="#4d8ff0" stroke="none" stroke-width="1"/>
<circle cx="574.07" cy="93.49" r="1.85" fill="#4d8ff0" stroke="none" stroke-width="1"/>
<circle cx="574.07" cy="89.52" r="1.85" fill="#4d8ff0" stroke="none" stroke-width="1"/>
<circle cx="574.07" cy="85.56" r="1.85" fill="#4d8ff0" stroke="none" stroke-width="1"/>
<circle cx="594.15" cy="93.49" r="1.85" fill="#4d8ff0" stroke="none" stroke-width="1"/>
<circle cx="594.15" cy="91.11" r="1.85" fill="#4d8ff0" stroke="none" stroke-width="1"/>
<circle cx="594.15" cy="89.52" r="1.85" fill="#4d8ff0" stroke="none" stroke-width="1"/>
<circle cx="614.24" cy="94.28" r="1.85" fill="#4d8ff0" stroke="none" stroke-width="1"/>
<circle cx="614.24" cy="92.69" r="1.85" fill="#4d8ff0" stroke="none" stroke-width="1"/>
<circle cx="614.24" cy="90.32" r="1.85" fill="#4d8ff0" stroke="none" stroke-width="1"/>
<circle cx="634.32" cy="96.66" r="1.85" fill="#4d8ff0" stroke="none" stroke-width="1"/>
<circle cx="634.32" cy="95.07" r="1.85" fill="#4d8ff0" stroke="none" stroke-width="1"/>
<circle cx="634.32" cy="93.49" r="1.85" fill="#4d8ff0" stroke="none" stroke-width="1"/>
<circle cx="654.40" cy="99.83" r="1.85" fill="#4d8ff0" stroke="none" stroke-width="1"/>
<circle cx="654.40" cy="95.87" r="1.85" fill="#4d8ff0" stroke="none" stroke-width="1"/>
<circle cx="654.40" cy="92.69" r="1.85" fill="#4d8ff0" stroke="none" stroke-width="1"/>
<line x1="540.20" y1="48.00" x2="552.60" y2="48.00" stroke="#4d8ff0" stroke-width="1.1"/>
<circle cx="546.40" cy="48.00" r="1.60" fill="#4d8ff0" stroke="none" stroke-width="1"/>
<text x="560.30" y="51.50" font-size="13.8" text-anchor="start" fill="#1a1a1a">Circ-0075305</text>
<line x1="540.20" y1="60.90" x2="552.60" y2="60.90" stroke="#f5b97a" stroke-width="1.1"/>
<rect x="544.80" y="59.30" width="3.20" height="3.20" fill="#f5b97a" stroke="none" stroke-width="1"/>
<text x="560.30" y="64.50" font-size="13.8" text-anchor="start" fill="#1a1a1a">MAML1-mRNA</text>
<line x1="664.00" y1="95.20" x2="664.00" y2="143.00" stroke="#444" stroke-width="1.7"/>
<path d="M670.40,111.80L676.00,111.80M671.80,109.38L674.60,114.22M674.60,109.38L671.80,114.22" fill="none" stroke="#111" stroke-width="1.3"/>
<circle cx="673.20" cy="111.80" r="1.06" fill="#111" stroke="none" stroke-width="1"/>
<path d="M670.40,119.00L676.00,119.00M671.80,116.58L674.60,121.42M674.60,116.58L671.80,121.42" fill="none" stroke="#111" stroke-width="1.3"/>
<circle cx="673.20" cy="119.00" r="1.06" fill="#111" stroke="none" stroke-width="1"/>
<path d="M670.40,126.20L676.00,126.20M671.80,123.78L674.60,128.62M674.60,123.78L671.80,128.62" fill="none" stroke="#111" stroke-width="1.3"/>
<circle cx="673.20" cy="126.20" r="1.06" fill="#111" stroke="none" stroke-width="1"/>
<text x="8.60" y="222.40" font-size="17" text-anchor="start" fill="#231815" font-weight="bold">d</text>
<line x1="55.50" y1="242.50" x2="55.50" y2="416.20" stroke="#1a1a1a" stroke-width="1.6"/>
<line x1="54.70" y1="415.40" x2="227.00" y2="415.40" stroke="#1a1a1a" stroke-width="1.6"/>
<line x1="50.60" y1="415.40" x2="55.50" y2="415.40" stroke="#1a1a1a" stroke-width="1.4"/>
<text x="47.80" y="420.50" font-size="14.4" text-anchor="end" fill="#1a1a1a">0.0</text>
<line x1="50.60" y1="358.40" x2="55.50" y2="358.40" stroke="#1a1a1a" stroke-width="1.4"/>
<text x="47.80" y="363.50" font-size="14.4" text-anchor="end" fill="#1a1a1a">0.5</text>
<line x1="50.60" y1="301.40" x2="55.50" y2="301.40" stroke="#1a1a1a" stroke-width="1.4"/>
<text x="47.80" y="306.50" font-size="14.4" text-anchor="end" fill="#1a1a1a">1.0</text>
<line x1="50.60" y1="244.40" x2="55.50" y2="244.40" stroke="#1a1a1a" stroke-width="1.4"/>
<text x="47.80" y="249.50" font-size="14.4" text-anchor="end" fill="#1a1a1a">1.5</text>
<text x="126.30" y="222.20" font-size="15.0" text-anchor="middle" fill="#1a1a1a">HGC-27</text>
<rect x="67.50" y="229.00" width="17.20" height="8.00" fill="#569cf8" stroke="#222" stroke-width="0.8"/>
<text x="94.90" y="238.40" font-size="15.1" text-anchor="start" fill="#1a1a1a">Mock</text>
<rect x="67.50" y="246.30" width="17.20" height="8.00" fill="#fcbe7e" stroke="#222" stroke-width="0.8"/>
<text x="94.90" y="255.80" font-size="15.1" text-anchor="start" fill="#1a1a1a">RNase R</text>
<text x="18.20" y="330.00" font-size="14.75" text-anchor="middle" fill="#1a1a1a" transform="rotate(-90 18.2 330.0)">Relative mRNA expression</text>
<rect x="66.80" y="301.40" width="22.60" height="113.20" fill="#569cf8" stroke="#222" stroke-width="0.9"/>
<line x1="78.10" y1="282.02" x2="78.10" y2="320.78" stroke="#1a1a1a" stroke-width="1.0"/>
<line x1="72.30" y1="282.02" x2="83.90" y2="282.02" stroke="#1a1a1a" stroke-width="1.0"/>
<line x1="72.30" y1="320.78" x2="83.90" y2="320.78" stroke="#1a1a1a" stroke-width="1.0"/>
<circle cx="78.10" cy="282.02" r="2.60" fill="#111" stroke="none" stroke-width="1"/>
<circle cx="78.10" cy="301.40" r="2.60" fill="#111" stroke="none" stroke-width="1"/>
<circle cx="78.10" cy="320.78" r="2.60" fill="#111" stroke="none" stroke-width="1"/>
<rect x="101.00" y="313.94" width="22.40" height="100.66" fill="#fcbe7e" stroke="#222" stroke-width="0.9"/>
<line x1="112.20" y1="305.96" x2="112.20" y2="320.78" stroke="#1a1a1a" stroke-width="1.0"/>
<line x1="106.40" y1="305.96" x2="118.00" y2="305.96" stroke="#1a1a1a" stroke-width="1.0"/>
<line x1="106.40" y1="320.78" x2="118.00" y2="320.78" stroke="#1a1a1a" stroke-width="1.0"/>
<circle cx="112.20" cy="305.96" r="2.60" fill="#111" stroke="none" stroke-width="1"/>
<circle cx="112.20" cy="312.80" r="2.60" fill="#111" stroke="none" stroke-width="1"/>
<circle cx="112.20" cy="321.92" r="2.60" fill="#111" stroke="none" stroke-width="1"/>
<rect x="158.00" y="301.40" width="22.70" height="113.20" fill="#569cf8" stroke="#222" stroke-width="0.9"/>
<line x1="169.35" y1="291.14" x2="169.35" y2="310.52" stroke="#1a1a1a" stroke-width="1.0"/>
<line x1="163.55" y1="291.14" x2="175.15" y2="291.14" stroke="#1a1a1a" stroke-width="1.0"/>
<line x1="163.55" y1="310.52" x2="175.15" y2="310.52" stroke="#1a1a1a" stroke-width="1.0"/>
<circle cx="169.35" cy="291.14" r="2.60" fill="#111" stroke="none" stroke-width="1"/>
<circle cx="169.35" cy="302.54" r="2.60" fill="#111" stroke="none" stroke-width="1"/>
<circle cx="169.35" cy="310.52" r="2.60" fill="#111" stroke="none" stroke-width="1"/>
<rect x="192.30" y="391.46" width="22.30" height="23.14" fill="#fcbe7e" stroke="#222" stroke-width="0.9"/>
<line x1="203.45" y1="388.04" x2="203.45" y2="393.74" stroke="#1a1a1a" stroke-width="1.0"/>
<line x1="197.65" y1="388.04" x2="209.25" y2="388.04" stroke="#1a1a1a" stroke-width="1.0"/>
<line x1="197.65" y1="393.74" x2="209.25" y2="393.74" stroke="#1a1a1a" stroke-width="1.0"/>
<circle cx="194.75" cy="392.14" r="2.60" fill="#111" stroke="none" stroke-width="1"/>
<circle cx="202.25" cy="386.10" r="2.60" fill="#111" stroke="none" stroke-width="1"/>
<circle cx="212.15" cy="391.12" r="2.60" fill="#111" stroke="none" stroke-width="1"/>
<line x1="95.60" y1="415.40" x2="95.60" y2="420.50" stroke="#1a1a1a" stroke-width="1.5"/>
<line x1="186.00" y1="415.40" x2="186.00" y2="420.50" stroke="#1a1a1a" stroke-width="1.5"/>
<line x1="77.70" y1="275.30" x2="112.00" y2="275.30" stroke="#1a1a1a" stroke-width="1.0"/>
<text x="95.20" y="271.60" font-size="9.4" text-anchor="middle" fill="#1a1a1a">ns</text>
<line x1="169.20" y1="284.40" x2="202.40" y2="284.40" stroke="#1a1a1a" stroke-width="1.1"/>
<path d="M177.30,274.40L177.30,280.80M174.53,276.00L180.07,279.20M180.07,276.00L174.53,279.20" fill="none" stroke="#111" stroke-width="1.5"/>
<circle cx="177.30" cy="277.60" r="1.22" fill="#111" stroke="none" stroke-width="1"/>
<path d="M186.10,274.40L186.10,280.80M183.33,276.00L188.87,279.20M188.87,276.00L183.33,279.20" fill="none" stroke="#111" stroke-width="1.5"/>
<circle cx="186.10" cy="277.60" r="1.22" fill="#111" stroke="none" stroke-width="1"/>
<path d="M194.90,274.40L194.90,280.80M192.13,276.00L197.67,279.20M197.67,276.00L192.13,279.20" fill="none" stroke="#111" stroke-width="1.5"/>
<circle cx="194.90" cy="277.60" r="1.22" fill="#111" stroke="none" stroke-width="1"/>
<text x="0" y="0" font-size="15.3" text-anchor="middle" fill="#1a1a1a" transform="translate(96.60 437.90) scale(1.07 1)">Circ</text>
<text x="0" y="0" font-size="15.3" text-anchor="middle" fill="#1a1a1a" transform="translate(95.80 457.20) scale(1.07 1)">-0075305</text>
<text x="0" y="0" font-size="15.3" text-anchor="middle" fill="#1a1a1a" transform="translate(182.90 437.90) scale(1.07 1)">MAML1</text>
<text x="0" y="0" font-size="15.3" text-anchor="middle" fill="#1a1a1a" transform="translate(183.50 457.20) scale(1.07 1)">-mRNA</text>
<text x="243.20" y="221.80" font-size="17" text-anchor="start" fill="#231815" font-weight="bold">e</text>
<text x="288.60" y="246.30" font-size="16.6" text-anchor="start" fill="#1a1a1a">HGC-27</text>
<path d="M402.40,238.70 L418.90,232.00 L435.40,238.70 L418.90,245.40 Z" fill="#111" stroke="none" stroke-width="1"/>
<line x1="418.90" y1="232.50" x2="418.90" y2="244.90" stroke="#555" stroke-width="0.6"/>
<text x="438.20" y="243.60" font-size="14.2" text-anchor="start" fill="#1a1a1a">Divergent</text>
<path d="M525.00,232.20 L542.10,239.00 L525.00,245.80 Z M559.80,232.20 L542.70,239.00 L559.80,245.80 Z" fill="#111" stroke="none" stroke-width="1"/>
<text x="563.40" y="243.60" font-size="14.2" text-anchor="start" fill="#1a1a1a">Convergent</text>
<defs>
<linearGradient id="gelg" x1="0" y1="0" x2="1" y2="0">
<stop offset="0" stop-color="#323232"/><stop offset="0.15" stop-color="#3a3a3a"/><stop offset="0.5" stop-color="#484848"/><stop offset="1" stop-color="#515151"/>
</linearGradient>
<linearGradient id="gelv" x1="0" y1="0" x2="0" y2="1">
<stop offset="0" stop-color="#fff" stop-opacity="0.10"/><stop offset="0.45" stop-color="#fff" stop-opacity="0.0"/><stop offset="1" stop-color="#000" stop-opacity="0.18"/>
</linearGradient>
<filter id="blur1" x="-20%" y="-200%" width="140%" height="500%"><feGaussianBlur stdDeviation="1.0"/></filter>
<filter id="blurg" x="-20%" y="-200%" width="140%" height="500%"><feGaussianBlur stdDeviation="2.2"/></filter>
<filter id="blur2" x="-20%" y="-20%" width="140%" height="140%"><feGaussianBlur stdDeviation="2.5"/></filter>
</defs>
<rect x="283.00" y="252.00" width="381.20" height="107.30" fill="url(#gelg)" stroke="none" stroke-width="1"/>
<rect x="345.00" y="253.00" width="44.00" height="105.00" fill="#fff" stroke="none" stroke-width="1" opacity="0.018" filter="url(#blur2)"/>
<rect x="398.00" y="253.00" width="46.00" height="105.00" fill="#fff" stroke="none" stroke-width="1" opacity="0.018" filter="url(#blur2)"/>
<rect x="452.00" y="253.00" width="46.00" height="105.00" fill="#fff" stroke="none" stroke-width="1" opacity="0.018" filter="url(#blur2)"/>
<rect x="506.00" y="253.00" width="46.00" height="105.00" fill="#fff" stroke="none" stroke-width="1" opacity="0.018" filter="url(#blur2)"/>
<rect x="566.00" y="253.00" width="46.00" height="105.00" fill="#fff" stroke="none" stroke-width="1" opacity="0.018" filter="url(#blur2)"/>
<rect x="616.00" y="253.00" width="46.00" height="105.00" fill="#fff" stroke="none" stroke-width="1" opacity="0.018" filter="url(#blur2)"/>
<rect x="283.00" y="252.00" width="381.20" height="107.30" fill="url(#gelv)" stroke="none" stroke-width="1"/>
<rect x="289.00" y="255.00" width="50.00" height="102.00" fill="#777" stroke="none" stroke-width="1" opacity="0.30" filter="url(#blur2)"/>
<rect x="291.50" y="263.40" width="45.50" height="8.40" fill="#f0f0f0" opacity="0.35" filter="url(#blurg)"/>
<rect x="292.50" y="264.90" width="43.50" height="5.40" rx="1.5" fill="#f0f0f0" filter="url(#blur1)"/>
<rect x="291.50" y="288.80" width="45.50" height="10.00" fill="#ffffff" opacity="0.5" filter="url(#blurg)"/>
<rect x="292.50" y="290.30" width="43.50" height="7.00" rx="1.5" fill="#ffffff" filter="url(#blur1)"/>
<rect x="291.50" y="305.80" width="45.50" height="7.60" fill="#c4c4c4" opacity="0.35" filter="url(#blurg)"/>
<rect x="292.50" y="307.30" width="43.50" height="4.60" rx="1.5" fill="#c4c4c4" filter="url(#blur1)"/>
<rect x="291.50" y="325.80" width="45.50" height="8.00" fill="#a0a0a0" opacity="0.35" filter="url(#blurg)"/>
<rect x="292.50" y="327.30" width="43.50" height="5.00" rx="1.5" fill="#a0a0a0" filter="url(#blur1)"/>
<rect x="291.50" y="351.10" width="45.50" height="7.40" fill="#686868" opacity="0.35" filter="url(#blurg)"/>
<rect x="292.50" y="352.60" width="43.50" height="4.40" rx="1.5" fill="#686868" filter="url(#blur1)"/>
<rect x="344.00" y="318.80" width="45.20" height="9.20" fill="#a8a8a8" opacity="0.35" filter="url(#blurg)"/>
<rect x="345.00" y="320.30" width="43.20" height="6.20" rx="1.5" fill="#a8a8a8" filter="url(#blur1)"/>
<rect x="397.60" y="289.30" width="45.40" height="8.60" fill="#ececec" opacity="0.35" filter="url(#blurg)"/>
<rect x="398.60" y="290.80" width="43.40" height="5.60" rx="1.5" fill="#ececec" filter="url(#blur1)"/>
<rect x="451.50" y="318.30" width="46.00" height="9.00" fill="#acacac" opacity="0.35" filter="url(#blurg)"/>
<rect x="452.50" y="319.80" width="44.00" height="6.00" rx="1.5" fill="#acacac" filter="url(#blur1)"/>
<rect x="615.00" y="288.70" width="46.00" height="8.60" fill="#eeeeee" opacity="0.35" filter="url(#blurg)"/>
<rect x="616.00" y="290.20" width="44.00" height="5.60" rx="1.5" fill="#eeeeee" filter="url(#blur1)"/>
<text x="271.50" y="271.10" font-size="13.0" text-anchor="end" fill="#1a1a1a" transform="translate(-27.15 0) scale(1.1 1)">300bp</text>
<line x1="272.10" y1="266.90" x2="284.80" y2="266.90" stroke="#1a1a1a" stroke-width="1.4" stroke-dasharray="3.0 1.5"/>
<text x="271.50" y="295.90" font-size="13.0" text-anchor="end" fill="#1a1a1a" transform="translate(-27.15 0) scale(1.1 1)">200bp</text>
<line x1="272.10" y1="291.70" x2="284.80" y2="291.70" stroke="#1a1a1a" stroke-width="1.4" stroke-dasharray="3.0 1.5"/>
<text x="271.50" y="313.30" font-size="13.0" text-anchor="end" fill="#1a1a1a" transform="translate(-27.15 0) scale(1.1 1)">150bp</text>
<line x1="272.10" y1="309.10" x2="284.80" y2="309.10" stroke="#1a1a1a" stroke-width="1.4" stroke-dasharray="3.0 1.5"/>
<text x="271.50" y="333.80" font-size="13.0" text-anchor="end" fill="#1a1a1a" transform="translate(-27.15 0) scale(1.1 1)">100bp</text>
<line x1="272.10" y1="329.60" x2="284.80" y2="329.60" stroke="#1a1a1a" stroke-width="1.4" stroke-dasharray="3.0 1.5"/>
<text x="266.40" y="358.60" font-size="13.0" text-anchor="end" fill="#1a1a1a" transform="translate(-26.64 0) scale(1.1 1)">50bp</text>
<line x1="267.00" y1="354.40" x2="284.80" y2="354.40" stroke="#1a1a1a" stroke-width="1.4" stroke-dasharray="3.0 1.5"/>
<path d="M351.00,371.50 L368.00,364.90 L385.00,371.50 L368.00,378.10 Z" fill="#111" stroke="none" stroke-width="1"/>
<line x1="368.00" y1="365.40" x2="368.00" y2="377.60" stroke="#555" stroke-width="0.6"/>
<path d="M402.70,364.70 L419.90,371.50 L402.70,378.30 Z M437.70,364.70 L420.50,371.50 L437.70,378.30 Z" fill="#111" stroke="none" stroke-width="1"/>
<path d="M458.90,371.50 L475.90,364.90 L492.90,371.50 L475.90,378.10 Z" fill="#111" stroke="none" stroke-width="1"/>
<line x1="475.90" y1="365.40" x2="475.90" y2="377.60" stroke="#555" stroke-width="0.6"/>
<path d="M511.60,364.70 L528.80,371.50 L511.60,378.30 Z M546.60,364.70 L529.40,371.50 L546.60,378.30 Z" fill="#111" stroke="none" stroke-width="1"/>
<path d="M572.00,371.50 L589.00,364.90 L606.00,371.50 L589.00,378.10 Z" fill="#111" stroke="none" stroke-width="1"/>
<line x1="589.00" y1="365.40" x2="589.00" y2="377.60" stroke="#555" stroke-width="0.6"/>
<path d="M622.80,364.70 L640.00,371.50 L622.80,378.30 Z M657.80,364.70 L640.60,371.50 L657.80,378.30 Z" fill="#111" stroke="none" stroke-width="1"/>
<text x="284.40" y="395.10" font-size="14.0" text-anchor="start" fill="#1a1a1a">RNase R</text>
<text x="284.40" y="418.50" font-size="14.0" text-anchor="start" fill="#1a1a1a">cDNA</text>
<text x="284.40" y="441.40" font-size="14.0" text-anchor="start" fill="#1a1a1a">gDNA</text>
<line x1="364.90" y1="391.70" x2="371.10" y2="391.70" stroke="#1a1a1a" stroke-width="1.8"/>
<line x1="417.10" y1="391.70" x2="423.30" y2="391.70" stroke="#1a1a1a" stroke-width="1.8"/>
<line x1="470.80" y1="391.70" x2="481.00" y2="391.70" stroke="#1a1a1a" stroke-width="1.8"/>
<line x1="475.90" y1="386.40" x2="475.90" y2="397.00" stroke="#1a1a1a" stroke-width="1.8"/>
<line x1="524.00" y1="391.70" x2="534.20" y2="391.70" stroke="#1a1a1a" stroke-width="1.8"/>
<line x1="529.10" y1="386.40" x2="529.10" y2="397.00" stroke="#1a1a1a" stroke-width="1.8"/>
<line x1="585.90" y1="391.70" x2="592.10" y2="391.70" stroke="#1a1a1a" stroke-width="1.8"/>
<line x1="637.20" y1="391.70" x2="643.40" y2="391.70" stroke="#1a1a1a" stroke-width="1.8"/>
<line x1="362.90" y1="414.20" x2="373.10" y2="414.20" stroke="#1a1a1a" stroke-width="1.8"/>
<line x1="368.00" y1="408.90" x2="368.00" y2="419.50" stroke="#1a1a1a" stroke-width="1.8"/>
<line x1="415.10" y1="414.20" x2="425.30" y2="414.20" stroke="#1a1a1a" stroke-width="1.8"/>
<line x1="420.20" y1="408.90" x2="420.20" y2="419.50" stroke="#1a1a1a" stroke-width="1.8"/>
<line x1="470.80" y1="414.20" x2="481.00" y2="414.20" stroke="#1a1a1a" stroke-width="1.8"/>
<line x1="475.90" y1="408.90" x2="475.90" y2="419.50" stroke="#1a1a1a" stroke-width="1.8"/>
<line x1="524.00" y1="414.20" x2="534.20" y2="414.20" stroke="#1a1a1a" stroke-width="1.8"/>
<line x1="529.10" y1="408.90" x2="529.10" y2="419.50" stroke="#1a1a1a" stroke-width="1.8"/>
<line x1="585.90" y1="414.20" x2="592.10" y2="414.20" stroke="#1a1a1a" stroke-width="1.8"/>
<line x1="637.20" y1="414.20" x2="643.40" y2="414.20" stroke="#1a1a1a" stroke-width="1.8"/>
<line x1="364.90" y1="437.20" x2="371.10" y2="437.20" stroke="#1a1a1a" stroke-width="1.8"/>
<line x1="417.10" y1="437.20" x2="423.30" y2="437.20" stroke="#1a1a1a" stroke-width="1.8"/>
<line x1="472.80" y1="437.20" x2="479.00" y2="437.20" stroke="#1a1a1a" stroke-width="1.8"/>
<line x1="526.00" y1="437.20" x2="532.20" y2="437.20" stroke="#1a1a1a" stroke-width="1.8"/>
<line x1="583.90" y1="437.20" x2="594.10" y2="437.20" stroke="#1a1a1a" stroke-width="1.8"/>
<line x1="589.00" y1="431.90" x2="589.00" y2="442.50" stroke="#1a1a1a" stroke-width="1.8"/>
<line x1="635.20" y1="437.20" x2="645.40" y2="437.20" stroke="#1a1a1a" stroke-width="1.8"/>
<line x1="640.30" y1="431.90" x2="640.30" y2="442.50" stroke="#1a1a1a" stroke-width="1.8"/>
<text x="16.60" y="479.00" font-size="17" text-anchor="start" fill="#231815" font-weight="bold">f</text>
<line x1="80.30" y1="487.50" x2="80.30" y2="691.20" stroke="#1a1a1a" stroke-width="1.6"/>
<line x1="71.00" y1="488.15" x2="80.30" y2="488.15" stroke="#1a1a1a" stroke-width="1.4"/>
<text x="69.80" y="493.65" font-size="15.4" text-anchor="end" fill="#1a1a1a">15</text>
<line x1="71.00" y1="521.90" x2="80.30" y2="521.90" stroke="#1a1a1a" stroke-width="1.4"/>
<text x="69.80" y="527.40" font-size="15.4" text-anchor="end" fill="#1a1a1a">10</text>
<line x1="71.00" y1="555.65" x2="80.30" y2="555.65" stroke="#1a1a1a" stroke-width="1.4"/>
<text x="69.80" y="561.15" font-size="15.4" text-anchor="end" fill="#1a1a1a">5</text>
<line x1="71.00" y1="589.40" x2="80.30" y2="589.40" stroke="#1a1a1a" stroke-width="1.4"/>
<text x="69.80" y="594.90" font-size="15.4" text-anchor="end" fill="#1a1a1a">0</text>
<line x1="71.00" y1="623.15" x2="80.30" y2="623.15" stroke="#1a1a1a" stroke-width="1.4"/>
<text x="69.80" y="628.65" font-size="15.4" text-anchor="end" fill="#1a1a1a">-5</text>
<line x1="71.00" y1="656.90" x2="80.30" y2="656.90" stroke="#1a1a1a" stroke-width="1.4"/>
<text x="69.80" y="662.40" font-size="15.4" text-anchor="end" fill="#1a1a1a">-10</text>
<line x1="71.00" y1="690.65" x2="80.30" y2="690.65" stroke="#1a1a1a" stroke-width="1.4"/>
<text x="69.80" y="696.15" font-size="15.4" text-anchor="end" fill="#1a1a1a">-15</text>
<line x1="79.50" y1="690.50" x2="362.50" y2="690.50" stroke="#1a1a1a" stroke-width="1.6"/>
<line x1="80.90" y1="690.50" x2="80.90" y2="698.00" stroke="#1a1a1a" stroke-width="1.4"/>
<line x1="108.58" y1="690.50" x2="108.58" y2="698.00" stroke="#1a1a1a" stroke-width="1.4"/>
<line x1="136.26" y1="690.50" x2="136.26" y2="698.00" stroke="#1a1a1a" stroke-width="1.4"/>
<line x1="163.94" y1="690.50" x2="163.94" y2="698.00" stroke="#1a1a1a" stroke-width="1.4"/>
<line x1="191.62" y1="690.50" x2="191.62" y2="698.00" stroke="#1a1a1a" stroke-width="1.4"/>
<line x1="219.30" y1="690.50" x2="219.30" y2="698.00" stroke="#1a1a1a" stroke-width="1.4"/>
<line x1="246.98" y1="690.50" x2="246.98" y2="698.00" stroke="#1a1a1a" stroke-width="1.4"/>
<line x1="274.66" y1="690.50" x2="274.66" y2="698.00" stroke="#1a1a1a" stroke-width="1.4"/>
<line x1="302.34" y1="690.50" x2="302.34" y2="698.00" stroke="#1a1a1a" stroke-width="1.4"/>
<line x1="330.02" y1="690.50" x2="330.02" y2="698.00" stroke="#1a1a1a" stroke-width="1.4"/>
<text x="242.00" y="721.30" font-size="20.0" text-anchor="middle" fill="#1a1a1a">Number</text>
<text x="237.20" y="495.30" font-size="19.6" text-anchor="middle" fill="#1a1a1a">n=200</text>
<text x="158.60" y="580.00" font-size="16.4" text-anchor="middle" fill="#1a1a1a">138/200(69.0%)</text>
<text x="317.20" y="611.40" font-size="16.4" text-anchor="middle" fill="#1a1a1a">62/200(31.0%)</text>
<text x="22.20" y="590.40" font-size="16.3" text-anchor="middle" fill="#1a1a1a" transform="rotate(-90 22.2 590.4)">Relative circ-0075305</text>
<text x="38.60" y="590.40" font-size="16.3" text-anchor="middle" fill="#1a1a1a" transform="rotate(-90 38.6 590.4)" xml:space="preserve">mRNA  level (log2 T/N)</text>
<path d="M80.30,589.40 L80.30,640.70 L81.63,640.70 L81.63,640.70 L82.96,640.70 L82.96,638.00 L84.29,638.00 L84.29,638.00 L85.62,638.00 L85.62,630.57 L86.95,630.57 L86.95,630.57 L88.28,630.57 L88.28,623.22 L89.61,623.22 L89.61,622.37 L90.94,622.37 L90.94,621.52 L92.27,621.52 L92.27,620.99 L93.60,620.99 L93.60,620.49 L94.93,620.49 L94.93,619.98 L96.26,619.98 L96.26,619.47 L97.59,619.47 L97.59,618.90 L98.92,618.90 L98.92,618.15 L100.25,618.15 L100.25,617.40 L101.58,617.40 L101.58,616.65 L102.91,616.65 L102.91,616.14 L104.24,616.14 L104.24,615.80 L105.57,615.80 L105.57,615.46 L106.90,615.46 L106.90,615.13 L108.23,615.13 L108.23,614.79 L109.56,614.79 L109.56,614.35 L110.89,614.35 L110.89,613.39 L112.22,613.39 L112.22,612.43 L113.55,612.43 L113.55,612.09 L114.88,612.09 L114.88,611.81 L116.21,611.81 L116.21,611.53 L117.54,611.53 L117.54,611.25 L118.87,611.25 L118.87,610.97 L120.20,610.97 L120.20,610.68 L121.53,610.68 L121.53,610.40 L122.86,610.40 L122.86,610.12 L124.19,610.12 L124.19,609.84 L125.52,609.84 L125.52,609.56 L126.85,609.56 L126.85,609.28 L128.18,609.28 L128.18,608.99 L129.51,608.99 L129.51,608.71 L130.84,608.71 L130.84,608.43 L132.17,608.43 L132.17,608.15 L133.50,608.15 L133.50,607.94 L134.83,607.94 L134.83,607.78 L136.16,607.78 L136.16,607.62 L137.49,607.62 L137.49,607.46 L138.82,607.46 L138.82,607.30 L140.15,607.30 L140.15,607.14 L141.48,607.14 L141.48,606.98 L142.81,606.98 L142.81,606.82 L144.14,606.82 L144.14,606.66 L145.47,606.66 L145.47,606.50 L146.80,606.50 L146.80,606.34 L148.13,606.34 L148.13,606.18 L149.46,606.18 L149.46,606.02 L150.79,606.02 L150.79,605.86 L152.12,605.86 L152.12,605.70 L153.45,605.70 L153.45,605.54 L154.78,605.54 L154.78,605.38 L156.11,605.38 L156.11,605.22 L157.44,605.22 L157.44,605.06 L158.77,605.06 L158.77,604.90 L160.10,604.90 L160.10,604.74 L161.43,604.74 L161.43,604.58 L162.76,604.58 L162.76,604.44 L164.09,604.44 L164.09,604.31 L165.42,604.31 L165.42,604.17 L166.75,604.17 L166.75,604.04 L168.08,604.04 L168.08,603.91 L169.41,603.91 L169.41,603.78 L170.74,603.78 L170.74,603.64 L172.07,603.64 L172.07,603.51 L173.40,603.51 L173.40,603.38 L174.73,603.38 L174.73,603.25 L176.06,603.25 L176.06,603.12 L177.39,603.12 L177.39,602.98 L178.72,602.98 L178.72,602.85 L180.05,602.85 L180.05,602.72 L181.38,602.72 L181.38,602.59 L182.71,602.59 L182.71,602.45 L184.04,602.45 L184.04,602.32 L185.37,602.32 L185.37,602.19 L186.70,602.19 L186.70,602.06 L188.03,602.06 L188.03,601.93 L189.36,601.93 L189.36,601.79 L190.69,601.79 L190.69,601.66 L192.02,601.66 L192.02,601.53 L193.35,601.53 L193.35,601.39 L194.68,601.39 L194.68,601.26 L196.01,601.26 L196.01,601.12 L197.34,601.12 L197.34,600.99 L198.67,600.99 L198.67,600.85 L200.00,600.85 L200.00,600.72 L201.33,600.72 L201.33,600.58 L202.66,600.58 L202.66,600.45 L203.99,600.45 L203.99,600.31 L205.32,600.31 L205.32,600.17 L206.65,600.17 L206.65,600.04 L207.98,600.04 L207.98,599.90 L209.31,599.90 L209.31,599.77 L210.64,599.77 L210.64,599.63 L211.97,599.63 L211.97,599.50 L213.30,599.50 L213.30,599.36 L214.63,599.36 L214.63,599.23 L215.96,599.23 L215.96,599.09 L217.29,599.09 L217.29,598.96 L218.62,598.96 L218.62,598.82 L219.95,598.82 L219.95,598.69 L221.28,598.69 L221.28,598.49 L222.61,598.49 L222.61,598.28 L223.94,598.28 L223.94,598.06 L225.27,598.06 L225.27,597.85 L226.60,597.85 L226.60,597.63 L227.93,597.63 L227.93,597.42 L229.26,597.42 L229.26,597.20 L230.59,597.20 L230.59,596.99 L231.92,596.99 L231.92,596.77 L233.25,596.77 L233.25,596.56 L234.58,596.56 L234.58,596.34 L235.91,596.34 L235.91,596.12 L237.24,596.12 L237.24,595.91 L238.57,595.91 L238.57,595.66 L239.90,595.66 L239.90,595.39 L241.23,595.39 L241.23,595.12 L242.56,595.12 L242.56,594.84 L243.89,594.84 L243.89,594.57 L245.22,594.57 L245.22,594.30 L246.55,594.30 L246.55,594.02 L247.88,594.02 L247.88,593.75 L249.21,593.75 L249.21,593.48 L250.54,593.48 L250.54,593.04 L251.87,593.04 L251.87,592.59 L253.20,592.59 L253.20,592.15 L254.53,592.15 L254.53,591.70 L255.86,591.70 L255.86,591.28 L257.19,591.28 L257.19,590.90 L258.52,590.90 L258.52,590.53 L259.85,590.53 L259.85,590.16 L261.18,590.16 L261.18,589.78 L262.51,589.78 L262.51,589.54 L263.84,589.54 L263.84,589.41 L264.00,589.41 L264.00,589.40 Z" fill="#5a92d8" stroke="none" stroke-width="1"/>
<line x1="80.90" y1="589.40" x2="80.90" y2="656.90" stroke="#5a92d8" stroke-width="0.8"/>
<path d="M264.40,589.40 L264.40,589.06 L265.90,589.06 L265.90,588.38 L267.40,588.38 L267.40,587.70 L268.90,587.70 L268.90,587.01 L270.40,587.01 L270.40,586.32 L271.90,586.32 L271.90,585.34 L273.40,585.34 L273.40,584.14 L274.90,584.14 L274.90,582.93 L276.40,582.93 L276.40,581.28 L277.90,581.28 L277.90,580.28 L279.40,580.28 L279.40,579.74 L280.90,579.74 L280.90,579.20 L282.40,579.20 L282.40,578.66 L283.90,578.66 L283.90,578.12 L285.40,578.12 L285.40,577.80 L286.90,577.80 L286.90,577.60 L288.40,577.60 L288.40,577.40 L289.90,577.40 L289.90,576.96 L291.40,576.96 L291.40,575.74 L292.90,575.74 L292.90,574.53 L294.40,574.53 L294.40,573.84 L295.90,573.84 L295.90,573.15 L297.40,573.15 L297.40,572.47 L298.90,572.47 L298.90,571.69 L300.40,571.69 L300.40,570.07 L301.90,570.07 L301.90,568.82 L303.40,568.82 L303.40,568.07 L304.90,568.07 L304.90,567.31 L306.40,567.31 L306.40,566.56 L307.90,566.56 L307.90,565.80 L309.40,565.80 L309.40,564.99 L310.90,564.99 L310.90,564.22 L312.40,564.22 L312.40,563.53 L313.90,563.53 L313.90,562.85 L315.40,562.85 L315.40,562.16 L316.90,562.16 L316.90,561.35 L318.40,561.35 L318.40,560.34 L319.90,560.34 L319.90,559.33 L321.40,559.33 L321.40,558.30 L322.90,558.30 L322.90,556.94 L324.40,556.94 L324.40,552.04 L325.90,552.04 L325.90,551.32 L327.40,551.32 L327.40,551.03 L328.90,551.03 L328.90,550.74 L330.40,550.74 L330.40,550.45 L331.90,550.45 L331.90,550.11 L333.40,550.11 L333.40,549.66 L334.90,549.66 L334.90,549.21 L336.40,549.21 L336.40,548.75 L337.90,548.75 L337.90,548.30 L339.40,548.30 L339.40,547.72 L340.90,547.72 L340.90,547.12 L342.40,547.12 L342.40,546.51 L343.90,546.51 L343.90,545.91 L345.40,545.91 L345.40,545.26 L346.90,545.26 L346.90,544.54 L348.40,544.54 L348.40,543.81 L349.90,543.81 L349.90,540.13 L351.40,540.13 L351.40,534.17 L352.90,534.17 L352.90,530.00 L354.40,530.00 L354.40,530.00 L355.90,530.00 L355.90,522.83 L357.00,522.83 L357.00,589.40 Z" fill="#f5b87c" stroke="none" stroke-width="1"/>
<line x1="81.63" y1="589.40" x2="81.63" y2="640.70" stroke="#fff" stroke-width="0.25" opacity="0.5"/>
<line x1="82.96" y1="589.40" x2="82.96" y2="639.08" stroke="#fff" stroke-width="0.25" opacity="0.5"/>
<line x1="84.29" y1="589.40" x2="84.29" y2="638.00" stroke="#fff" stroke-width="0.25" opacity="0.5"/>
<line x1="85.62" y1="589.40" x2="85.62" y2="630.57" stroke="#fff" stroke-width="0.25" opacity="0.5"/>
<line x1="86.95" y1="589.40" x2="86.95" y2="630.57" stroke="#fff" stroke-width="0.25" opacity="0.5"/>
<line x1="88.28" y1="589.40" x2="88.28" y2="623.65" stroke="#fff" stroke-width="0.25" opacity="0.5"/>
<line x1="89.61" y1="589.40" x2="89.61" y2="622.80" stroke="#fff" stroke-width="0.25" opacity="0.5"/>
<line x1="90.94" y1="589.40" x2="90.94" y2="621.95" stroke="#fff" stroke-width="0.25" opacity="0.5"/>
<line x1="92.27" y1="589.40" x2="92.27" y2="621.25" stroke="#fff" stroke-width="0.25" opacity="0.5"/>
<line x1="93.60" y1="589.40" x2="93.60" y2="620.74" stroke="#fff" stroke-width="0.25" opacity="0.5"/>
<line x1="94.93" y1="589.40" x2="94.93" y2="620.23" stroke="#fff" stroke-width="0.25" opacity="0.5"/>
<line x1="96.26" y1="589.40" x2="96.26" y2="619.72" stroke="#fff" stroke-width="0.25" opacity="0.5"/>
<line x1="97.59" y1="589.40" x2="97.59" y2="619.22" stroke="#fff" stroke-width="0.25" opacity="0.5"/>
<line x1="98.92" y1="589.40" x2="98.92" y2="618.52" stroke="#fff" stroke-width="0.25" opacity="0.5"/>
<line x1="100.25" y1="589.40" x2="100.25" y2="617.77" stroke="#fff" stroke-width="0.25" opacity="0.5"/>
<line x1="101.58" y1="589.40" x2="101.58" y2="617.02" stroke="#fff" stroke-width="0.25" opacity="0.5"/>
<line x1="102.91" y1="589.40" x2="102.91" y2="616.30" stroke="#fff" stroke-width="0.25" opacity="0.5"/>
<line x1="104.24" y1="589.40" x2="104.24" y2="615.97" stroke="#fff" stroke-width="0.25" opacity="0.5"/>
<line x1="105.57" y1="589.40" x2="105.57" y2="615.63" stroke="#fff" stroke-width="0.25" opacity="0.5"/>
<line x1="106.90" y1="589.40" x2="106.90" y2="615.29" stroke="#fff" stroke-width="0.25" opacity="0.5"/>
<line x1="108.23" y1="589.40" x2="108.23" y2="614.96" stroke="#fff" stroke-width="0.25" opacity="0.5"/>
<line x1="109.56" y1="589.40" x2="109.56" y2="614.62" stroke="#fff" stroke-width="0.25" opacity="0.5"/>
<line x1="110.89" y1="589.40" x2="110.89" y2="613.87" stroke="#fff" stroke-width="0.25" opacity="0.5"/>
<line x1="112.22" y1="589.40" x2="112.22" y2="612.91" stroke="#fff" stroke-width="0.25" opacity="0.5"/>
<line x1="113.55" y1="589.40" x2="113.55" y2="612.23" stroke="#fff" stroke-width="0.25" opacity="0.5"/>
<line x1="114.88" y1="589.40" x2="114.88" y2="611.95" stroke="#fff" stroke-width="0.25" opacity="0.5"/>
<line x1="116.21" y1="589.40" x2="116.21" y2="611.67" stroke="#fff" stroke-width="0.25" opacity="0.5"/>
<line x1="117.54" y1="589.40" x2="117.54" y2="611.39" stroke="#fff" stroke-width="0.25" opacity="0.5"/>
<line x1="118.87" y1="589.40" x2="118.87" y2="611.11" stroke="#fff" stroke-width="0.25" opacity="0.5"/>
<line x1="120.20" y1="589.40" x2="120.20" y2="610.83" stroke="#fff" stroke-width="0.25" opacity="0.5"/>
<line x1="121.53" y1="589.40" x2="121.53" y2="610.54" stroke="#fff" stroke-width="0.25" opacity="0.5"/>
<line x1="122.86" y1="589.40" x2="122.86" y2="610.26" stroke="#fff" stroke-width="0.25" opacity="0.5"/>
<line x1="124.19" y1="589.40" x2="124.19" y2="609.98" stroke="#fff" stroke-width="0.25" opacity="0.5"/>
<line x1="125.52" y1="589.40" x2="125.52" y2="609.70" stroke="#fff" stroke-width="0.25" opacity="0.5"/>
<line x1="126.85" y1="589.40" x2="126.85" y2="609.42" stroke="#fff" stroke-width="0.25" opacity="0.5"/>
<line x1="128.18" y1="589.40" x2="128.18" y2="609.14" stroke="#fff" stroke-width="0.25" opacity="0.5"/>
<line x1="129.51" y1="589.40" x2="129.51" y2="608.85" stroke="#fff" stroke-width="0.25" opacity="0.5"/>
<line x1="130.84" y1="589.40" x2="130.84" y2="608.57" stroke="#fff" stroke-width="0.25" opacity="0.5"/>
<line x1="132.17" y1="589.40" x2="132.17" y2="608.29" stroke="#fff" stroke-width="0.25" opacity="0.5"/>
<line x1="133.50" y1="589.40" x2="133.50" y2="608.02" stroke="#fff" stroke-width="0.25" opacity="0.5"/>
<line x1="134.83" y1="589.40" x2="134.83" y2="607.86" stroke="#fff" stroke-width="0.25" opacity="0.5"/>
<line x1="136.16" y1="589.40" x2="136.16" y2="607.70" stroke="#fff" stroke-width="0.25" opacity="0.5"/>
<line x1="137.49" y1="589.40" x2="137.49" y2="607.54" stroke="#fff" stroke-width="0.25" opacity="0.5"/>
<line x1="138.82" y1="589.40" x2="138.82" y2="607.38" stroke="#fff" stroke-width="0.25" opacity="0.5"/>
<line x1="140.15" y1="589.40" x2="140.15" y2="607.22" stroke="#fff" stroke-width="0.25" opacity="0.5"/>
<line x1="141.48" y1="589.40" x2="141.48" y2="607.06" stroke="#fff" stroke-width="0.25" opacity="0.5"/>
<line x1="142.81" y1="589.40" x2="142.81" y2="606.90" stroke="#fff" stroke-width="0.25" opacity="0.5"/>
<line x1="144.14" y1="589.40" x2="144.14" y2="606.74" stroke="#fff" stroke-width="0.25" opacity="0.5"/>
<line x1="145.47" y1="589.40" x2="145.47" y2="606.58" stroke="#fff" stroke-width="0.25" opacity="0.5"/>
<line x1="146.80" y1="589.40" x2="146.80" y2="606.42" stroke="#fff" stroke-width="0.25" opacity="0.5"/>
<line x1="148.13" y1="589.40" x2="148.13" y2="606.26" stroke="#fff" stroke-width="0.25" opacity="0.5"/>
<line x1="149.46" y1="589.40" x2="149.46" y2="606.10" stroke="#fff" stroke-width="0.25" opacity="0.5"/>
<line x1="150.79" y1="589.40" x2="150.79" y2="605.94" stroke="#fff" stroke-width="0.25" opacity="0.5"/>
<line x1="152.12" y1="589.40" x2="152.12" y2="605.78" stroke="#fff" stroke-width="0.25" opacity="0.5"/>
<line x1="153.45" y1="589.40" x2="153.45" y2="605.62" stroke="#fff" stroke-width="0.25" opacity="0.5"/>
<line x1="154.78" y1="589.40" x2="154.78" y2="605.46" stroke="#fff" stroke-width="0.25" opacity="0.5"/>
<line x1="156.11" y1="589.40" x2="156.11" y2="605.30" stroke="#fff" stroke-width="0.25" opacity="0.5"/>
<line x1="157.44" y1="589.40" x2="157.44" y2="605.14" stroke="#fff" stroke-width="0.25" opacity="0.5"/>
<line x1="158.77" y1="589.40" x2="158.77" y2="604.98" stroke="#fff" stroke-width="0.25" opacity="0.5"/>
<line x1="160.10" y1="589.40" x2="160.10" y2="604.82" stroke="#fff" stroke-width="0.25" opacity="0.5"/>
<line x1="161.43" y1="589.40" x2="161.43" y2="604.66" stroke="#fff" stroke-width="0.25" opacity="0.5"/>
<line x1="162.76" y1="589.40" x2="162.76" y2="604.50" stroke="#fff" stroke-width="0.25" opacity="0.5"/>
<line x1="164.09" y1="589.40" x2="164.09" y2="604.37" stroke="#fff" stroke-width="0.25" opacity="0.5"/>
<line x1="165.42" y1="589.40" x2="165.42" y2="604.24" stroke="#fff" stroke-width="0.25" opacity="0.5"/>
<line x1="166.75" y1="589.40" x2="166.75" y2="604.11" stroke="#fff" stroke-width="0.25" opacity="0.5"/>
<line x1="168.08" y1="589.40" x2="168.08" y2="603.98" stroke="#fff" stroke-width="0.25" opacity="0.5"/>
<line x1="169.41" y1="589.40" x2="169.41" y2="603.84" stroke="#fff" stroke-width="0.25" opacity="0.5"/>
<line x1="170.74" y1="589.40" x2="170.74" y2="603.71" stroke="#fff" stroke-width="0.25" opacity="0.5"/>
<line x1="172.07" y1="589.40" x2="172.07" y2="603.58" stroke="#fff" stroke-width="0.25" opacity="0.5"/>
<line x1="173.40" y1="589.40" x2="173.40" y2="603.45" stroke="#fff" stroke-width="0.25" opacity="0.5"/>
<line x1="174.73" y1="589.40" x2="174.73" y2="603.31" stroke="#fff" stroke-width="0.25" opacity="0.5"/>
<line x1="176.06" y1="589.40" x2="176.06" y2="603.18" stroke="#fff" stroke-width="0.25" opacity="0.5"/>
<line x1="177.39" y1="589.40" x2="177.39" y2="603.05" stroke="#fff" stroke-width="0.25" opacity="0.5"/>
<line x1="178.72" y1="589.40" x2="178.72" y2="602.92" stroke="#fff" stroke-width="0.25" opacity="0.5"/>
<line x1="180.05" y1="589.40" x2="180.05" y2="602.79" stroke="#fff" stroke-width="0.25" opacity="0.5"/>
<line x1="181.38" y1="589.40" x2="181.38" y2="602.65" stroke="#fff" stroke-width="0.25" opacity="0.5"/>
<line x1="182.71" y1="589.40" x2="182.71" y2="602.52" stroke="#fff" stroke-width="0.25" opacity="0.5"/>
<line x1="184.04" y1="589.40" x2="184.04" y2="602.39" stroke="#fff" stroke-width="0.25" opacity="0.5"/>
<line x1="185.37" y1="589.40" x2="185.37" y2="602.26" stroke="#fff" stroke-width="0.25" opacity="0.5"/>
<line x1="186.70" y1="589.40" x2="186.70" y2="602.12" stroke="#fff" stroke-width="0.25" opacity="0.5"/>
<line x1="188.03" y1="589.40" x2="188.03" y2="601.99" stroke="#fff" stroke-width="0.25" opacity="0.5"/>
<line x1="189.36" y1="589.40" x2="189.36" y2="601.86" stroke="#fff" stroke-width="0.25" opacity="0.5"/>
<line x1="190.69" y1="589.40" x2="190.69" y2="601.73" stroke="#fff" stroke-width="0.25" opacity="0.5"/>
<line x1="192.02" y1="589.40" x2="192.02" y2="601.60" stroke="#fff" stroke-width="0.25" opacity="0.5"/>
<line x1="193.35" y1="589.40" x2="193.35" y2="601.46" stroke="#fff" stroke-width="0.25" opacity="0.5"/>
<line x1="194.68" y1="589.40" x2="194.68" y2="601.32" stroke="#fff" stroke-width="0.25" opacity="0.5"/>
<line x1="196.01" y1="589.40" x2="196.01" y2="601.19" stroke="#fff" stroke-width="0.25" opacity="0.5"/>
<line x1="197.34" y1="589.40" x2="197.34" y2="601.05" stroke="#fff" stroke-width="0.25" opacity="0.5"/>
<line x1="198.67" y1="589.40" x2="198.67" y2="600.92" stroke="#fff" stroke-width="0.25" opacity="0.5"/>
<line x1="200.00" y1="589.40" x2="200.00" y2="600.78" stroke="#fff" stroke-width="0.25" opacity="0.5"/>
<line x1="201.33" y1="589.40" x2="201.33" y2="600.65" stroke="#fff" stroke-width="0.25" opacity="0.5"/>
<line x1="202.66" y1="589.40" x2="202.66" y2="600.51" stroke="#fff" stroke-width="0.25" opacity="0.5"/>
<line x1="203.99" y1="589.40" x2="203.99" y2="600.38" stroke="#fff" stroke-width="0.25" opacity="0.5"/>
<line x1="205.32" y1="589.40" x2="205.32" y2="600.24" stroke="#fff" stroke-width="0.25" opacity="0.5"/>
<line x1="206.65" y1="589.40" x2="206.65" y2="600.11" stroke="#fff" stroke-width="0.25" opacity="0.5"/>
<line x1="207.98" y1="589.40" x2="207.98" y2="599.97" stroke="#fff" stroke-width="0.25" opacity="0.5"/>
<line x1="209.31" y1="589.40" x2="209.31" y2="599.84" stroke="#fff" stroke-width="0.25" opacity="0.5"/>
<line x1="210.64" y1="589.40" x2="210.64" y2="599.70" stroke="#fff" stroke-width="0.25" opacity="0.5"/>
<line x1="211.97" y1="589.40" x2="211.97" y2="599.57" stroke="#fff" stroke-width="0.25" opacity="0.5"/>
<line x1="213.30" y1="589.40" x2="213.30" y2="599.43" stroke="#fff" stroke-width="0.25" opacity="0.5"/>
<line x1="214.63" y1="589.40" x2="214.63" y2="599.30" stroke="#fff" stroke-width="0.25" opacity="0.5"/>
<line x1="215.96" y1="589.40" x2="215.96" y2="599.16" stroke="#fff" stroke-width="0.25" opacity="0.5"/>
<line x1="217.29" y1="589.40" x2="217.29" y2="599.02" stroke="#fff" stroke-width="0.25" opacity="0.5"/>
<line x1="218.62" y1="589.40" x2="218.62" y2="598.89" stroke="#fff" stroke-width="0.25" opacity="0.5"/>
<line x1="219.95" y1="589.40" x2="219.95" y2="598.75" stroke="#fff" stroke-width="0.25" opacity="0.5"/>
<line x1="221.28" y1="589.40" x2="221.28" y2="598.60" stroke="#fff" stroke-width="0.25" opacity="0.5"/>
<line x1="222.61" y1="589.40" x2="222.61" y2="598.39" stroke="#fff" stroke-width="0.25" opacity="0.5"/>
<line x1="223.94" y1="589.40" x2="223.94" y2="598.17" stroke="#fff" stroke-width="0.25" opacity="0.5"/>
<line x1="225.27" y1="589.40" x2="225.27" y2="597.96" stroke="#fff" stroke-width="0.25" opacity="0.5"/>
<line x1="226.60" y1="589.40" x2="226.60" y2="597.74" stroke="#fff" stroke-width="0.25" opacity="0.5"/>
<line x1="227.93" y1="589.40" x2="227.93" y2="597.52" stroke="#fff" stroke-width="0.25" opacity="0.5"/>
<line x1="229.26" y1="589.40" x2="229.26" y2="597.31" stroke="#fff" stroke-width="0.25" opacity="0.5"/>
<line x1="230.59" y1="589.40" x2="230.59" y2="597.09" stroke="#fff" stroke-width="0.25" opacity="0.5"/>
<line x1="231.92" y1="589.40" x2="231.92" y2="596.88" stroke="#fff" stroke-width="0.25" opacity="0.5"/>
<line x1="233.25" y1="589.40" x2="233.25" y2="596.66" stroke="#fff" stroke-width="0.25" opacity="0.5"/>
<line x1="234.58" y1="589.40" x2="234.58" y2="596.45" stroke="#fff" stroke-width="0.25" opacity="0.5"/>
<line x1="235.91" y1="589.40" x2="235.91" y2="596.23" stroke="#fff" stroke-width="0.25" opacity="0.5"/>
<line x1="237.24" y1="589.40" x2="237.24" y2="596.02" stroke="#fff" stroke-width="0.25" opacity="0.5"/>
<line x1="238.57" y1="589.40" x2="238.57" y2="595.80" stroke="#fff" stroke-width="0.25" opacity="0.5"/>
<line x1="239.90" y1="589.40" x2="239.90" y2="595.52" stroke="#fff" stroke-width="0.25" opacity="0.5"/>
<line x1="241.23" y1="589.40" x2="241.23" y2="595.25" stroke="#fff" stroke-width="0.25" opacity="0.5"/>
<line x1="242.56" y1="589.40" x2="242.56" y2="594.98" stroke="#fff" stroke-width="0.25" opacity="0.5"/>
<line x1="243.89" y1="589.40" x2="243.89" y2="594.71" stroke="#fff" stroke-width="0.25" opacity="0.5"/>
<line x1="245.22" y1="589.40" x2="245.22" y2="594.43" stroke="#fff" stroke-width="0.25" opacity="0.5"/>
<line x1="246.55" y1="589.40" x2="246.55" y2="594.16" stroke="#fff" stroke-width="0.25" opacity="0.5"/>
<line x1="247.88" y1="589.40" x2="247.88" y2="593.89" stroke="#fff" stroke-width="0.25" opacity="0.5"/>
<line x1="249.21" y1="589.40" x2="249.21" y2="593.61" stroke="#fff" stroke-width="0.25" opacity="0.5"/>
<line x1="250.54" y1="589.40" x2="250.54" y2="593.27" stroke="#fff" stroke-width="0.25" opacity="0.5"/>
<line x1="251.87" y1="589.40" x2="251.87" y2="592.82" stroke="#fff" stroke-width="0.25" opacity="0.5"/>
<line x1="253.20" y1="589.40" x2="253.20" y2="592.37" stroke="#fff" stroke-width="0.25" opacity="0.5"/>
<line x1="254.53" y1="589.40" x2="254.53" y2="591.92" stroke="#fff" stroke-width="0.25" opacity="0.5"/>
<line x1="255.86" y1="589.40" x2="255.86" y2="591.47" stroke="#fff" stroke-width="0.25" opacity="0.5"/>
<line x1="257.19" y1="589.40" x2="257.19" y2="591.09" stroke="#fff" stroke-width="0.25" opacity="0.5"/>
<line x1="258.52" y1="589.40" x2="258.52" y2="590.72" stroke="#fff" stroke-width="0.25" opacity="0.5"/>
<line x1="259.85" y1="589.40" x2="259.85" y2="590.34" stroke="#fff" stroke-width="0.25" opacity="0.5"/>
<line x1="261.18" y1="589.40" x2="261.18" y2="589.97" stroke="#fff" stroke-width="0.25" opacity="0.5"/>
<line x1="265.90" y1="589.40" x2="265.90" y2="588.73" stroke="#fff" stroke-width="0.25" opacity="0.5"/>
<line x1="267.40" y1="589.40" x2="267.40" y2="588.04" stroke="#fff" stroke-width="0.25" opacity="0.5"/>
<line x1="268.90" y1="589.40" x2="268.90" y2="587.35" stroke="#fff" stroke-width="0.25" opacity="0.5"/>
<line x1="270.40" y1="589.40" x2="270.40" y2="586.67" stroke="#fff" stroke-width="0.25" opacity="0.5"/>
<line x1="271.90" y1="589.40" x2="271.90" y2="585.94" stroke="#fff" stroke-width="0.25" opacity="0.5"/>
<line x1="273.40" y1="589.40" x2="273.40" y2="584.74" stroke="#fff" stroke-width="0.25" opacity="0.5"/>
<line x1="274.90" y1="589.40" x2="274.90" y2="583.53" stroke="#fff" stroke-width="0.25" opacity="0.5"/>
<line x1="276.40" y1="589.40" x2="276.40" y2="582.17" stroke="#fff" stroke-width="0.25" opacity="0.5"/>
<line x1="277.90" y1="589.40" x2="277.90" y2="580.55" stroke="#fff" stroke-width="0.25" opacity="0.5"/>
<line x1="279.40" y1="589.40" x2="279.40" y2="580.01" stroke="#fff" stroke-width="0.25" opacity="0.5"/>
<line x1="280.90" y1="589.40" x2="280.90" y2="579.47" stroke="#fff" stroke-width="0.25" opacity="0.5"/>
<line x1="282.40" y1="589.40" x2="282.40" y2="578.93" stroke="#fff" stroke-width="0.25" opacity="0.5"/>
<line x1="283.90" y1="589.40" x2="283.90" y2="578.39" stroke="#fff" stroke-width="0.25" opacity="0.5"/>
<line x1="285.40" y1="589.40" x2="285.40" y2="577.90" stroke="#fff" stroke-width="0.25" opacity="0.5"/>
<line x1="286.90" y1="589.40" x2="286.90" y2="577.70" stroke="#fff" stroke-width="0.25" opacity="0.5"/>
<line x1="288.40" y1="589.40" x2="288.40" y2="577.50" stroke="#fff" stroke-width="0.25" opacity="0.5"/>
<line x1="289.90" y1="589.40" x2="289.90" y2="577.30" stroke="#fff" stroke-width="0.25" opacity="0.5"/>
<line x1="291.40" y1="589.40" x2="291.40" y2="576.35" stroke="#fff" stroke-width="0.25" opacity="0.5"/>
<line x1="292.90" y1="589.40" x2="292.90" y2="575.12" stroke="#fff" stroke-width="0.25" opacity="0.5"/>
<line x1="294.40" y1="589.40" x2="294.40" y2="574.18" stroke="#fff" stroke-width="0.25" opacity="0.5"/>
<line x1="295.90" y1="589.40" x2="295.90" y2="573.50" stroke="#fff" stroke-width="0.25" opacity="0.5"/>
<line x1="297.40" y1="589.40" x2="297.40" y2="572.81" stroke="#fff" stroke-width="0.25" opacity="0.5"/>
<line x1="298.90" y1="589.40" x2="298.90" y2="572.12" stroke="#fff" stroke-width="0.25" opacity="0.5"/>
<line x1="300.40" y1="589.40" x2="300.40" y2="570.88" stroke="#fff" stroke-width="0.25" opacity="0.5"/>
<line x1="301.90" y1="589.40" x2="301.90" y2="569.26" stroke="#fff" stroke-width="0.25" opacity="0.5"/>
<line x1="303.40" y1="589.40" x2="303.40" y2="568.44" stroke="#fff" stroke-width="0.25" opacity="0.5"/>
<line x1="304.90" y1="589.40" x2="304.90" y2="567.69" stroke="#fff" stroke-width="0.25" opacity="0.5"/>
<line x1="306.40" y1="589.40" x2="306.40" y2="566.93" stroke="#fff" stroke-width="0.25" opacity="0.5"/>
<line x1="307.90" y1="589.40" x2="307.90" y2="566.18" stroke="#fff" stroke-width="0.25" opacity="0.5"/>
<line x1="309.40" y1="589.40" x2="309.40" y2="565.40" stroke="#fff" stroke-width="0.25" opacity="0.5"/>
<line x1="310.90" y1="589.40" x2="310.90" y2="564.59" stroke="#fff" stroke-width="0.25" opacity="0.5"/>
<line x1="312.40" y1="589.40" x2="312.40" y2="563.88" stroke="#fff" stroke-width="0.25" opacity="0.5"/>
<line x1="313.90" y1="589.40" x2="313.90" y2="563.19" stroke="#fff" stroke-width="0.25" opacity="0.5"/>
<line x1="315.40" y1="589.40" x2="315.40" y2="562.50" stroke="#fff" stroke-width="0.25" opacity="0.5"/>
<line x1="316.90" y1="589.40" x2="316.90" y2="561.82" stroke="#fff" stroke-width="0.25" opacity="0.5"/>
<line x1="318.40" y1="589.40" x2="318.40" y2="560.85" stroke="#fff" stroke-width="0.25" opacity="0.5"/>
<line x1="319.90" y1="589.40" x2="319.90" y2="559.84" stroke="#fff" stroke-width="0.25" opacity="0.5"/>
<line x1="321.40" y1="589.40" x2="321.40" y2="558.82" stroke="#fff" stroke-width="0.25" opacity="0.5"/>
<line x1="322.90" y1="589.40" x2="322.90" y2="557.62" stroke="#fff" stroke-width="0.25" opacity="0.5"/>
<line x1="324.40" y1="589.40" x2="324.40" y2="556.26" stroke="#fff" stroke-width="0.25" opacity="0.5"/>
<line x1="325.90" y1="589.40" x2="325.90" y2="551.47" stroke="#fff" stroke-width="0.25" opacity="0.5"/>
<line x1="327.40" y1="589.40" x2="327.40" y2="551.18" stroke="#fff" stroke-width="0.25" opacity="0.5"/>
<line x1="328.90" y1="589.40" x2="328.90" y2="550.89" stroke="#fff" stroke-width="0.25" opacity="0.5"/>
<line x1="330.40" y1="589.40" x2="330.40" y2="550.60" stroke="#fff" stroke-width="0.25" opacity="0.5"/>
<line x1="331.90" y1="589.40" x2="331.90" y2="550.31" stroke="#fff" stroke-width="0.25" opacity="0.5"/>
<line x1="333.40" y1="589.40" x2="333.40" y2="549.89" stroke="#fff" stroke-width="0.25" opacity="0.5"/>
<line x1="334.90" y1="589.40" x2="334.90" y2="549.43" stroke="#fff" stroke-width="0.25" opacity="0.5"/>
<line x1="336.40" y1="589.40" x2="336.40" y2="548.98" stroke="#fff" stroke-width="0.25" opacity="0.5"/>
<line x1="337.90" y1="589.40" x2="337.90" y2="548.53" stroke="#fff" stroke-width="0.25" opacity="0.5"/>
<line x1="339.40" y1="589.40" x2="339.40" y2="548.02" stroke="#fff" stroke-width="0.25" opacity="0.5"/>
<line x1="340.90" y1="589.40" x2="340.90" y2="547.42" stroke="#fff" stroke-width="0.25" opacity="0.5"/>
<line x1="342.40" y1="589.40" x2="342.40" y2="546.81" stroke="#fff" stroke-width="0.25" opacity="0.5"/>
<line x1="343.90" y1="589.40" x2="343.90" y2="546.21" stroke="#fff" stroke-width="0.25" opacity="0.5"/>
<line x1="345.40" y1="589.40" x2="345.40" y2="545.61" stroke="#fff" stroke-width="0.25" opacity="0.5"/>
<line x1="346.90" y1="589.40" x2="346.90" y2="544.90" stroke="#fff" stroke-width="0.25" opacity="0.5"/>
<line x1="348.40" y1="589.40" x2="348.40" y2="544.17" stroke="#fff" stroke-width="0.25" opacity="0.5"/>
<line x1="349.90" y1="589.40" x2="349.90" y2="543.10" stroke="#fff" stroke-width="0.25" opacity="0.5"/>
<line x1="351.40" y1="589.40" x2="351.40" y2="537.15" stroke="#fff" stroke-width="0.25" opacity="0.5"/>
<line x1="352.90" y1="589.40" x2="352.90" y2="531.19" stroke="#fff" stroke-width="0.25" opacity="0.5"/>
<line x1="354.40" y1="589.40" x2="354.40" y2="530.00" stroke="#fff" stroke-width="0.25" opacity="0.5"/>
<line x1="355.90" y1="589.40" x2="355.90" y2="523.14" stroke="#fff" stroke-width="0.25" opacity="0.5"/>
<line x1="79.50" y1="589.40" x2="364.00" y2="589.40" stroke="#1a1a1a" stroke-width="1.6"/>
<line x1="80.30" y1="487.50" x2="80.30" y2="691.20" stroke="#1a1a1a" stroke-width="1.6"/>
<text x="430.70" y="479.00" font-size="17" text-anchor="start" fill="#231815" font-weight="bold">g</text>
<line x1="538.70" y1="693.50" x2="538.70" y2="652.88" stroke="#3f8be0" stroke-width="1.6"/>
<line x1="538.70" y1="649.34" x2="538.70" y2="635.18" stroke="#3f8be0" stroke-width="1.6"/>
<line x1="538.70" y1="628.51" x2="538.70" y2="620.18" stroke="#3f8be0" stroke-width="1.6"/>
<line x1="538.70" y1="610.80" x2="538.70" y2="607.26" stroke="#3f8be0" stroke-width="1.6"/>
<line x1="538.70" y1="519.57" x2="538.70" y2="517.49" stroke="#3f8be0" stroke-width="1.6"/>
<line x1="613.00" y1="693.50" x2="613.00" y2="656.01" stroke="#f0a050" stroke-width="1.6"/>
<path d="M538.7,518.7L613.0,671.6M538.7,607.7L613.0,670.2M538.7,608.5L613.0,671.8M538.7,609.3L613.0,673.1M538.7,610.2L613.0,674.8M538.7,620.6L613.0,670.6M538.7,621.6L613.0,672.7M538.7,624.8L613.0,673.7M538.7,625.8L613.0,669.5M538.7,627.9L613.0,675.8M538.7,635.6L613.0,656.4M538.7,636.2L613.0,668.5M538.7,637.3L613.0,671.6M538.7,638.3L613.0,659.1M538.7,639.3L613.0,674.8M538.7,641.4L613.0,664.3M538.7,643.5L613.0,672.7M538.7,644.5L613.0,661.2M538.7,646.6L613.0,676.8M538.7,648.7L613.0,666.4M538.7,653.3L613.0,658.1M538.7,653.9L613.0,662.3M538.7,655.0L613.0,681.0M538.7,656.0L613.0,670.6M538.7,657.0L613.0,674.8M538.7,658.1L613.0,660.2M538.7,659.1L613.0,683.1M538.7,660.2L613.0,668.5M538.7,661.2L613.0,676.8M538.7,662.3L613.0,665.4M538.7,663.3L613.0,656.4M538.7,664.3L613.0,672.7M538.7,665.4L613.0,678.9M538.7,666.4L613.0,663.3M538.7,667.5L613.0,670.6M538.7,668.5L613.0,681.0M538.7,669.5L613.0,667.5M538.7,670.6L613.0,674.8M538.7,691.0L613.0,688.6M538.7,689.2L613.0,687.7M538.7,684.3L613.0,693.1M538.7,693.4L613.0,682.1M538.7,690.7L613.0,691.8M538.7,667.5L613.0,689.5M538.7,676.5L613.0,689.5M538.7,683.9L613.0,692.5M538.7,684.1L613.0,680.8M538.7,686.6L613.0,685.1M538.7,683.1L613.0,693.1M538.7,680.2L613.0,687.9M538.7,690.1L613.0,693.3M538.7,674.7L613.0,689.5M538.7,681.6L613.0,680.3M538.7,681.8L613.0,677.6M538.7,688.8L613.0,683.4M538.7,688.0L613.0,676.4M538.7,673.7L613.0,692.9M538.7,692.1L613.0,692.0M538.7,667.5L613.0,689.9M538.7,684.3L613.0,691.3M538.7,686.9L613.0,690.5M538.7,689.4L613.0,688.0M538.7,685.3L613.0,678.8M538.7,682.8L613.0,677.0M538.7,675.3L613.0,671.6M538.7,683.1L613.0,692.4M538.7,675.0L613.0,672.6M538.7,671.5L613.0,688.2M538.7,681.8L613.0,692.0M538.7,676.8L613.0,688.2M538.7,690.4L613.0,693.1M538.7,675.5L613.0,671.6M538.7,692.6L613.0,683.4M538.7,688.5L613.0,692.5M538.7,690.2L613.0,684.3M538.7,674.2L613.0,693.2M538.7,684.6L613.0,693.2M538.7,681.6L613.0,691.0M538.7,673.6L613.0,671.6M538.7,686.9L613.0,671.6M538.7,690.0L613.0,693.0M538.7,684.9L613.0,693.3M538.7,691.4L613.0,690.2M538.7,684.7L613.0,692.4M538.7,693.1L613.0,680.9M538.7,690.0L613.0,673.6M538.7,672.2L613.0,690.5M538.7,687.7L613.0,688.9M538.7,683.8L613.0,687.8M538.7,685.8L613.0,687.5M538.7,667.5L613.0,689.1M538.7,688.2L613.0,685.5M538.7,691.0L613.0,691.3M538.7,667.5L613.0,688.9M538.7,686.0L613.0,693.4M538.7,688.5L613.0,688.1M538.7,693.3L613.0,687.5M538.7,684.1L613.0,693.1M538.7,684.2L613.0,689.6M538.7,682.8L613.0,690.8M538.7,682.0L613.0,685.1M538.7,693.3L613.0,693.1M538.7,682.9L613.0,672.8M538.7,690.8L613.0,689.7M538.7,685.1L613.0,691.1M538.7,689.3L613.0,691.2M538.7,689.2L613.0,687.8M538.7,690.2L613.0,690.5M538.7,679.6L613.0,693.3M538.7,685.6L613.0,685.2M538.7,690.0L613.0,691.9M538.7,678.2L613.0,691.8M538.7,691.6L613.0,689.9M538.7,682.3L613.0,692.8M538.7,689.9L613.0,691.0M538.7,676.7L613.0,689.9M538.7,675.4L613.0,692.3M538.7,689.7L613.0,686.9M538.7,673.2L613.0,689.8M538.7,691.1L613.0,692.7M538.7,686.4L613.0,692.2M538.7,678.1L613.0,682.1M538.7,691.6L613.0,691.5M538.7,678.1L613.0,687.1M538.7,678.1L613.0,690.9M538.7,692.2L613.0,691.3M538.7,678.7L613.0,691.5M538.7,689.5L613.0,690.1M538.7,688.4L613.0,690.2M538.7,669.8L613.0,692.4M538.7,693.5L613.0,675.6M538.7,673.6L613.0,671.6M538.7,688.2L613.0,674.8M538.7,668.9L613.0,691.9M538.7,680.7L613.0,682.2M538.7,683.3L613.0,688.9M538.7,690.3L613.0,690.9M538.7,691.1L613.0,693.1M538.7,685.2L613.0,691.4M538.7,677.9L613.0,693.2M538.7,671.6L613.0,686.1M538.7,669.4L613.0,679.3M538.7,671.9L613.0,688.1M538.7,693.4L613.0,685.0M538.7,691.7L613.0,691.3M538.7,683.3L613.0,688.8M538.7,688.5L613.0,676.0M538.7,684.6L613.0,690.9M538.7,690.8L613.0,681.1M538.7,687.4L613.0,684.0M538.7,689.4L613.0,692.1M538.7,686.3L613.0,682.9M538.7,691.7L613.0,683.7M538.7,669.6L613.0,683.3M538.7,677.2L613.0,693.5M538.7,684.2L613.0,681.1M538.7,693.0L613.0,691.5M538.7,690.6L613.0,688.8M538.7,688.3L613.0,689.5M538.7,679.5L613.0,693.5M538.7,693.0L613.0,692.7M538.7,692.3L613.0,693.1M538.7,667.5L613.0,681.5M538.7,692.7L613.0,689.1M538.7,689.9L613.0,691.1M538.7,689.4L613.0,687.0M538.7,685.2L613.0,690.7M538.7,691.5L613.0,691.0M538.7,692.3L613.0,688.4M538.7,681.7L613.0,690.5M538.7,692.7L613.0,692.3M538.7,689.1L613.0,687.7M538.7,679.2L613.0,690.5M538.7,678.4L613.0,687.4M538.7,688.2L613.0,690.6M538.7,687.1L613.0,685.9M538.7,688.4L613.0,686.1M538.7,687.7L613.0,691.7M538.7,686.3L613.0,686.1M538.7,692.8L613.0,690.0M538.7,688.3L613.0,680.3M538.7,667.7L613.0,690.6M538.7,672.1L613.0,683.7M538.7,690.6L613.0,689.6M538.7,692.3L613.0,683.0M538.7,683.3L613.0,679.9M538.7,678.8L613.0,686.6M538.7,681.1L613.0,688.3M538.7,692.5L613.0,688.0M538.7,693.5L613.0,692.5M538.7,679.5L613.0,693.2M538.7,692.6L613.0,692.8M538.7,673.6L613.0,692.3M538.7,693.3L613.0,682.0M538.7,692.3L613.0,681.9M538.7,683.0L613.0,682.2M538.7,667.5L613.0,688.1M538.7,678.5L613.0,693.3M538.7,679.8L613.0,689.0M538.7,681.7L613.0,692.8" fill="none" stroke="#000" stroke-width="0.9"/>
<path d="M538.7,693.5 L538.7,675.7945 L613.0,678.919 L613.0,693.5 Z" fill="#000" stroke="none" stroke-width="1"/>
<line x1="489.10" y1="484.40" x2="489.10" y2="694.30" stroke="#1a1a1a" stroke-width="1.6"/>
<line x1="488.30" y1="693.50" x2="663.70" y2="693.50" stroke="#1a1a1a" stroke-width="1.6"/>
<line x1="484.30" y1="693.50" x2="489.10" y2="693.50" stroke="#1a1a1a" stroke-width="1.4"/>
<text x="0" y="0" font-size="16.4" text-anchor="end" fill="#1a1a1a" transform="translate(482.20 699.40) scale(1.04 1)">0.0</text>
<line x1="484.30" y1="651.84" x2="489.10" y2="651.84" stroke="#1a1a1a" stroke-width="1.4"/>
<text x="0" y="0" font-size="16.4" text-anchor="end" fill="#1a1a1a" transform="translate(482.20 657.74) scale(1.04 1)">0.2</text>
<line x1="484.30" y1="610.18" x2="489.10" y2="610.18" stroke="#1a1a1a" stroke-width="1.4"/>
<text x="0" y="0" font-size="16.4" text-anchor="end" fill="#1a1a1a" transform="translate(482.20 616.08) scale(1.04 1)">0.4</text>
<line x1="484.30" y1="568.52" x2="489.10" y2="568.52" stroke="#1a1a1a" stroke-width="1.4"/>
<text x="0" y="0" font-size="16.4" text-anchor="end" fill="#1a1a1a" transform="translate(482.20 574.42) scale(1.04 1)">0.6</text>
<line x1="484.30" y1="526.86" x2="489.10" y2="526.86" stroke="#1a1a1a" stroke-width="1.4"/>
<text x="0" y="0" font-size="16.4" text-anchor="end" fill="#1a1a1a" transform="translate(482.20 532.76) scale(1.04 1)">0.8</text>
<line x1="484.30" y1="485.20" x2="489.10" y2="485.20" stroke="#1a1a1a" stroke-width="1.4"/>
<text x="0" y="0" font-size="16.4" text-anchor="end" fill="#1a1a1a" transform="translate(482.20 491.10) scale(1.04 1)">1.0</text>
<line x1="538.70" y1="693.50" x2="538.70" y2="698.60" stroke="#1a1a1a" stroke-width="1.4"/>
<line x1="613.00" y1="693.50" x2="613.00" y2="698.60" stroke="#1a1a1a" stroke-width="1.4"/>
<line x1="538.50" y1="498.80" x2="612.70" y2="498.80" stroke="#1a1a1a" stroke-width="2.0"/>
<path d="M562.40,483.90L562.40,492.50M558.68,486.05L566.12,490.35M566.12,486.05L558.68,490.35" fill="none" stroke="#111" stroke-width="1.6"/>
<circle cx="562.40" cy="488.20" r="1.63" fill="#111" stroke="none" stroke-width="1"/>
<path d="M573.50,483.90L573.50,492.50M569.78,486.05L577.22,490.35M577.22,486.05L569.78,490.35" fill="none" stroke="#111" stroke-width="1.6"/>
<circle cx="573.50" cy="488.20" r="1.63" fill="#111" stroke="none" stroke-width="1"/>
<path d="M584.60,483.90L584.60,492.50M580.88,486.05L588.32,490.35M588.32,486.05L580.88,490.35" fill="none" stroke="#111" stroke-width="1.6"/>
<circle cx="584.60" cy="488.20" r="1.63" fill="#111" stroke="none" stroke-width="1"/>
<text x="0" y="0" font-size="15.4" text-anchor="middle" fill="#1a1a1a" transform="translate(544.20 711.50) scale(1.06 1)">Normal</text>
<text x="0" y="0" font-size="15.4" text-anchor="middle" fill="#1a1a1a" transform="translate(546.10 731.00) scale(1.06 1)">(n=200)</text>
<text x="0" y="0" font-size="15.4" text-anchor="middle" fill="#1a1a1a" transform="translate(618.50 711.50) scale(1.06 1)">Cancer</text>
<text x="0" y="0" font-size="15.4" text-anchor="middle" fill="#1a1a1a" transform="translate(620.90 731.00) scale(1.06 1)">(n=200)</text>
<text x="434.60" y="589.40" font-size="16.4" text-anchor="middle" fill="#1a1a1a" transform="rotate(-90 434.6 589.4)">Relative expression of</text>
<text x="451.60" y="593.50" font-size="16.4" text-anchor="middle" fill="#1a1a1a" transform="rotate(-90 451.6 593.5)">Circ-0075305</text>
<text x="17.00" y="752.20" font-size="17" text-anchor="start" fill="#231815" font-weight="bold">h</text>
<text x="0" y="0" font-size="10.4" text-anchor="middle" fill="#1a1a1a" font-weight="bold" transform="translate(56.10 777.60) scale(0.88 1)">All patients</text>
<circle cx="95.20" cy="764.10" r="8.80" fill="#f5c3c3" stroke="none" stroke-width="1"/>
<line x1="88.00" y1="764.10" x2="102.40" y2="764.10" stroke="#e0463a" stroke-width="1.3"/>
<line x1="95.20" y1="760.10" x2="95.20" y2="768.10" stroke="#e0463a" stroke-width="1.3"/>
<circle cx="95.20" cy="785.00" r="8.80" fill="#c2e3ee" stroke="none" stroke-width="1"/>
<line x1="88.00" y1="785.00" x2="102.40" y2="785.00" stroke="#2fa3c4" stroke-width="1.3"/>
<line x1="95.20" y1="781.00" x2="95.20" y2="789.00" stroke="#2fa3c4" stroke-width="1.3"/>
<text x="111.20" y="769.80" font-size="16.2" text-anchor="start" fill="#1a1a1a">Circ-0075305<tspan font-size="9.4" dy="-6.5">High</tspan></text>
<text x="111.20" y="790.60" font-size="16.2" text-anchor="start" fill="#1a1a1a">Circ-0075305<tspan font-size="9.4" dy="-6.5">Low</tspan></text>
<path d="M74.60,804.30 L81.90,806.00 L89.20,806.80 L96.50,808.20 L103.80,810.40 L111.10,812.60 L114.00,819.90 L118.40,824.30 L133.00,825.00 L141.80,826.20 L144.40,825.80 L159.00,833.90 L176.50,834.60 L210.80,834.60 L210.80,858.70 L176.50,858.70 L169.20,856.50 L159.00,855.00 L147.60,848.20 L140.30,845.50 L125.70,840.30 L118.40,837.40 L112.60,833.00 L109.60,827.20 L103.80,823.50 L98.00,819.90 L89.20,817.00 L81.90,812.60 L74.60,806.80 Z" fill="rgba(236,120,120,0.42)" stroke="none" stroke-width="1"/>
<path d="M74.60,805.30 L79.00,806.80 L83.40,809.70 L88.50,815.50 L89.20,823.50 L96.50,829.40 L103.80,831.60 L115.50,836.00 L127.20,841.80 L135.90,846.20 L148.80,851.40 L159.00,855.00 L169.20,858.70 L203.50,858.70 L203.50,882.80 L170.70,882.80 L159.00,878.40 L147.60,875.40 L135.90,872.50 L127.20,866.60 L115.50,858.60 L103.80,852.00 L96.50,849.10 L89.20,843.30 L88.50,827.20 L83.40,822.10 L79.00,818.40 L76.00,814.00 Z" fill="rgba(100,190,215,0.36)" stroke="none" stroke-width="1"/>
<line x1="67.20" y1="865.80" x2="155.60" y2="865.80" stroke="#111" stroke-width="1.3" stroke-dasharray="5 3.6"/>
<line x1="155.60" y1="865.80" x2="155.60" y2="927.50" stroke="#111" stroke-width="1.3" stroke-dasharray="5 3.6"/>
<path d="M66.60,804.30 L74.60,804.30 L74.60,804.30 L76.00,804.30 L76.00,806.80 L79.00,806.80 L79.00,809.00 L81.90,809.00 L81.90,811.10 L87.00,811.10 L87.00,811.90 L90.70,811.90 L90.70,814.00 L98.00,814.00 L98.00,815.50 L102.30,815.50 L102.30,817.00 L105.30,817.00 L105.30,819.90 L111.10,819.90 L111.10,821.40 L112.60,821.40 L112.60,826.50 L116.20,826.50 L116.20,831.60 L118.40,831.60 L118.40,833.80 L128.60,833.80 L128.60,834.50 L140.30,834.50 L140.30,835.20 L142.50,835.20 L142.50,837.40 L149.00,837.40 L149.00,839.60 L153.40,839.60 L153.40,841.10 L157.80,841.10 L157.80,843.30 L159.00,843.30 L159.00,847.60 L212.60,847.60 L212.60,847.60" fill="none" stroke="#e0463a" stroke-width="1.2"/>
<path d="M66.60,804.30 L74.60,804.30 L74.60,804.30 L76.00,804.30 L76.00,810.40 L79.00,810.40 L79.00,812.60 L81.90,812.60 L81.90,814.00 L84.80,814.00 L84.80,817.00 L87.00,817.00 L87.00,819.20 L88.50,819.20 L88.50,823.50 L89.20,823.50 L89.20,833.80 L93.60,833.80 L93.60,838.10 L96.50,838.10 L96.50,840.30 L102.30,840.30 L102.30,841.10 L106.70,841.10 L106.70,843.30 L112.60,843.30 L112.60,846.20 L115.50,846.20 L115.50,849.80 L119.90,849.80 L119.90,851.30 L124.20,851.30 L124.20,852.70 L127.20,852.70 L127.20,855.70 L130.10,855.70 L130.10,857.90 L135.90,857.90 L135.90,862.20 L143.20,862.20 L143.20,864.40 L150.50,864.40 L150.50,865.20 L156.40,865.20 L156.40,866.60 L160.40,866.60 L160.40,868.20 L167.70,868.20 L167.70,869.60 L169.20,869.60 L169.20,872.00 L205.70,872.00 L205.70,872.00" fill="none" stroke="#2fa3c4" stroke-width="1.2"/>
<line x1="175.80" y1="844.80" x2="175.80" y2="850.40" stroke="#e0463a" stroke-width="1.1"/>
<line x1="177.20" y1="844.80" x2="177.20" y2="850.40" stroke="#e0463a" stroke-width="1.1"/>
<line x1="182.00" y1="844.80" x2="182.00" y2="850.40" stroke="#e0463a" stroke-width="1.1"/>
<line x1="185.00" y1="844.80" x2="185.00" y2="850.40" stroke="#e0463a" stroke-width="1.1"/>
<line x1="186.50" y1="844.80" x2="186.50" y2="850.40" stroke="#e0463a" stroke-width="1.1"/>
<line x1="188.00" y1="844.80" x2="188.00" y2="850.40" stroke="#e0463a" stroke-width="1.1"/>
<line x1="190.00" y1="844.80" x2="190.00" y2="850.40" stroke="#e0463a" stroke-width="1.1"/>
<line x1="192.00" y1="844.80" x2="192.00" y2="850.40" stroke="#e0463a" stroke-width="1.1"/>
<line x1="194.50" y1="844.80" x2="194.50" y2="850.40" stroke="#e0463a" stroke-width="1.1"/>
<line x1="196.00" y1="844.80" x2="196.00" y2="850.40" stroke="#e0463a" stroke-width="1.1"/>
<line x1="200.00" y1="844.80" x2="200.00" y2="850.40" stroke="#e0463a" stroke-width="1.1"/>
<line x1="203.00" y1="844.80" x2="203.00" y2="850.40" stroke="#e0463a" stroke-width="1.1"/>
<line x1="204.50" y1="844.80" x2="204.50" y2="850.40" stroke="#e0463a" stroke-width="1.1"/>
<line x1="206.00" y1="844.80" x2="206.00" y2="850.40" stroke="#e0463a" stroke-width="1.1"/>
<line x1="208.00" y1="844.80" x2="208.00" y2="850.40" stroke="#e0463a" stroke-width="1.1"/>
<line x1="210.50" y1="844.80" x2="210.50" y2="850.40" stroke="#e0463a" stroke-width="1.1"/>
<line x1="170.50" y1="869.20" x2="170.50" y2="874.80" stroke="#2fa3c4" stroke-width="1.1"/>
<line x1="172.00" y1="869.20" x2="172.00" y2="874.80" stroke="#2fa3c4" stroke-width="1.1"/>
<line x1="174.00" y1="869.20" x2="174.00" y2="874.80" stroke="#2fa3c4" stroke-width="1.1"/>
<line x1="176.50" y1="869.20" x2="176.50" y2="874.80" stroke="#2fa3c4" stroke-width="1.1"/>
<line x1="178.00" y1="869.20" x2="178.00" y2="874.80" stroke="#2fa3c4" stroke-width="1.1"/>
<line x1="184.00" y1="869.20" x2="184.00" y2="874.80" stroke="#2fa3c4" stroke-width="1.1"/>
<line x1="187.50" y1="869.20" x2="187.50" y2="874.80" stroke="#2fa3c4" stroke-width="1.1"/>
<line x1="189.00" y1="869.20" x2="189.00" y2="874.80" stroke="#2fa3c4" stroke-width="1.1"/>
<line x1="191.00" y1="869.20" x2="191.00" y2="874.80" stroke="#2fa3c4" stroke-width="1.1"/>
<line x1="193.00" y1="869.20" x2="193.00" y2="874.80" stroke="#2fa3c4" stroke-width="1.1"/>
<line x1="194.50" y1="869.20" x2="194.50" y2="874.80" stroke="#2fa3c4" stroke-width="1.1"/>
<line x1="196.00" y1="869.20" x2="196.00" y2="874.80" stroke="#2fa3c4" stroke-width="1.1"/>
<line x1="198.00" y1="869.20" x2="198.00" y2="874.80" stroke="#2fa3c4" stroke-width="1.1"/>
<line x1="200.00" y1="869.20" x2="200.00" y2="874.80" stroke="#2fa3c4" stroke-width="1.1"/>
<line x1="202.50" y1="869.20" x2="202.50" y2="874.80" stroke="#2fa3c4" stroke-width="1.1"/>
<rect x="58.50" y="798.30" width="176.00" height="135.40" fill="none" stroke="#333" stroke-width="1.0"/>
<line x1="55.60" y1="927.00" x2="58.50" y2="927.00" stroke="#333" stroke-width="1.0"/>
<text x="44.10" y="929.80" font-size="12.0" text-anchor="middle" fill="#4a4a4a">0</text>
<line x1="55.60" y1="896.32" x2="58.50" y2="896.32" stroke="#333" stroke-width="1.0"/>
<text x="44.10" y="899.12" font-size="12.0" text-anchor="middle" fill="#4a4a4a">25</text>
<line x1="55.60" y1="865.63" x2="58.50" y2="865.63" stroke="#333" stroke-width="1.0"/>
<text x="44.10" y="868.43" font-size="12.0" text-anchor="middle" fill="#4a4a4a">50</text>
<line x1="55.60" y1="834.95" x2="58.50" y2="834.95" stroke="#333" stroke-width="1.0"/>
<text x="44.10" y="837.75" font-size="12.0" text-anchor="middle" fill="#4a4a4a">75</text>
<line x1="55.60" y1="804.27" x2="58.50" y2="804.27" stroke="#333" stroke-width="1.0"/>
<text x="44.10" y="807.07" font-size="12.0" text-anchor="middle" fill="#4a4a4a">100</text>
<line x1="67.20" y1="933.70" x2="67.20" y2="936.60" stroke="#333" stroke-width="1.0"/>
<text x="67.20" y="944.30" font-size="9.4" text-anchor="middle" fill="#333">0</text>
<line x1="99.20" y1="933.70" x2="99.20" y2="936.60" stroke="#333" stroke-width="1.0"/>
<text x="99.20" y="944.30" font-size="9.4" text-anchor="middle" fill="#333">20</text>
<line x1="131.20" y1="933.70" x2="131.20" y2="936.60" stroke="#333" stroke-width="1.0"/>
<text x="131.20" y="944.30" font-size="9.4" text-anchor="middle" fill="#333">40</text>
<line x1="163.20" y1="933.70" x2="163.20" y2="936.60" stroke="#333" stroke-width="1.0"/>
<text x="163.20" y="944.30" font-size="9.4" text-anchor="middle" fill="#333">60</text>
<line x1="195.20" y1="933.70" x2="195.20" y2="936.60" stroke="#333" stroke-width="1.0"/>
<text x="195.20" y="944.30" font-size="9.4" text-anchor="middle" fill="#333">80</text>
<line x1="227.20" y1="933.70" x2="227.20" y2="936.60" stroke="#333" stroke-width="1.0"/>
<text x="227.20" y="944.30" font-size="9.4" text-anchor="middle" fill="#333">100</text>
<text x="153.80" y="956.60" font-size="13.4" text-anchor="middle" fill="#1a1a1a">Time</text>
<text x="208.80" y="813.60" font-size="16.2" text-anchor="middle" fill="#1a1a1a">n=200</text>
<text x="65.00" y="923.80" font-size="16.2" text-anchor="start" fill="#1a1a1a">p=0.002</text>
<text x="29.60" y="877.70" font-size="16.7" text-anchor="middle" fill="#1a1a1a" transform="rotate(-90 29.6 877.7)">Survival probability (%)</text>
<text x="59.00" y="970.20" font-size="12.8" text-anchor="start" fill="#1a1a1a">Number at risk</text>
<rect x="58.80" y="973.90" width="172.80" height="51.00" fill="none" stroke="#555" stroke-width="1.0"/>
<text x="67.20" y="991.30" font-size="10.0" text-anchor="middle" fill="#1a1a1a">100</text>
<text x="67.20" y="1014.70" font-size="10.0" text-anchor="middle" fill="#1a1a1a">100</text>
<line x1="67.20" y1="1024.90" x2="67.20" y2="1027.80" stroke="#333" stroke-width="1.0"/>
<text x="67.20" y="1037.20" font-size="10.0" text-anchor="middle" fill="#333">0</text>
<text x="99.20" y="991.30" font-size="10.0" text-anchor="middle" fill="#1a1a1a">91</text>
<text x="99.20" y="1014.70" font-size="10.0" text-anchor="middle" fill="#1a1a1a">71</text>
<line x1="99.20" y1="1024.90" x2="99.20" y2="1027.80" stroke="#333" stroke-width="1.0"/>
<text x="99.20" y="1037.20" font-size="10.0" text-anchor="middle" fill="#333">20</text>
<text x="131.20" y="991.30" font-size="10.0" text-anchor="middle" fill="#1a1a1a">75</text>
<text x="131.20" y="1014.70" font-size="10.0" text-anchor="middle" fill="#1a1a1a">56</text>
<line x1="131.20" y1="1024.90" x2="131.20" y2="1027.80" stroke="#333" stroke-width="1.0"/>
<text x="131.20" y="1037.20" font-size="10.0" text-anchor="middle" fill="#333">40</text>
<text x="163.20" y="991.30" font-size="10.0" text-anchor="middle" fill="#1a1a1a">66</text>
<text x="163.20" y="1014.70" font-size="10.0" text-anchor="middle" fill="#1a1a1a">48</text>
<line x1="163.20" y1="1024.90" x2="163.20" y2="1027.80" stroke="#333" stroke-width="1.0"/>
<text x="163.20" y="1037.20" font-size="10.0" text-anchor="middle" fill="#333">60</text>
<text x="195.20" y="991.30" font-size="10.0" text-anchor="middle" fill="#1a1a1a">19</text>
<text x="195.20" y="1014.70" font-size="10.0" text-anchor="middle" fill="#1a1a1a">18</text>
<line x1="195.20" y1="1024.90" x2="195.20" y2="1027.80" stroke="#333" stroke-width="1.0"/>
<text x="195.20" y="1037.20" font-size="10.0" text-anchor="middle" fill="#333">80</text>
<text x="227.20" y="991.30" font-size="10.0" text-anchor="middle" fill="#1a1a1a">0</text>
<text x="227.20" y="1014.70" font-size="10.0" text-anchor="middle" fill="#1a1a1a">0</text>
<line x1="227.20" y1="1024.90" x2="227.20" y2="1027.80" stroke="#333" stroke-width="1.0"/>
<text x="227.20" y="1037.20" font-size="10.0" text-anchor="middle" fill="#333">100</text>
<line x1="56.20" y1="987.60" x2="58.80" y2="987.60" stroke="#333" stroke-width="0.9"/>
<line x1="56.20" y1="1011.00" x2="58.80" y2="1011.00" stroke="#333" stroke-width="0.9"/>
<text x="29.80" y="990.10" font-size="8.2" text-anchor="middle" fill="#e3242b">Circ-0075305</text>
<text x="29.80" y="999.60" font-size="8.2" text-anchor="middle" fill="#e3242b">High</text>
<text x="31.00" y="1013.90" font-size="8.2" text-anchor="middle" fill="#2e64a8">Circ-0075305</text>
<text x="31.00" y="1023.40" font-size="8.2" text-anchor="middle" fill="#2e64a8">Low</text>
<text x="153.80" y="1047.50" font-size="12.6" text-anchor="middle" fill="#1a1a1a">Time</text>
<text x="251.80" y="752.20" font-size="17" text-anchor="start" fill="#231815" font-weight="bold">i</text>
<text x="0" y="0" font-size="10.4" text-anchor="middle" fill="#1a1a1a" font-weight="bold" transform="translate(283.60 772.60) scale(0.88 1)">Chemotherapy</text>
<text x="0" y="0" font-size="10.4" text-anchor="middle" fill="#1a1a1a" font-weight="bold" transform="translate(283.40 785.60) scale(0.88 1)">patients</text>
<circle cx="327.10" cy="764.10" r="8.80" fill="#f5c3c3" stroke="none" stroke-width="1"/>
<line x1="319.90" y1="764.10" x2="334.30" y2="764.10" stroke="#e0463a" stroke-width="1.3"/>
<line x1="327.10" y1="760.10" x2="327.10" y2="768.10" stroke="#e0463a" stroke-width="1.3"/>
<circle cx="327.10" cy="785.00" r="8.80" fill="#c2e3ee" stroke="none" stroke-width="1"/>
<line x1="319.90" y1="785.00" x2="334.30" y2="785.00" stroke="#2fa3c4" stroke-width="1.3"/>
<line x1="327.10" y1="781.00" x2="327.10" y2="789.00" stroke="#2fa3c4" stroke-width="1.3"/>
<text x="343.10" y="769.80" font-size="16.2" text-anchor="start" fill="#1a1a1a">Circ-0075305<tspan font-size="9.4" dy="-6.5">High</tspan></text>
<text x="343.10" y="790.60" font-size="16.2" text-anchor="start" fill="#1a1a1a">Circ-0075305<tspan font-size="9.4" dy="-6.5">Low</tspan></text>
<path d="M309.60,805.30 L319.80,806.80 L327.10,809.70 L338.80,812.60 L346.10,814.00 L350.50,825.70 L360.70,826.50 L375.00,827.30 L380.80,828.80 L392.50,834.60 L410.00,837.50 L444.30,838.20 L444.30,865.30 L411.50,865.30 L404.20,862.30 L392.50,859.40 L375.00,850.70 L360.70,846.20 L347.60,840.30 L344.60,831.60 L333.00,826.50 L324.20,818.40 L309.60,809.70 Z" fill="rgba(236,120,120,0.42)" stroke="none" stroke-width="1"/>
<path d="M309.60,805.30 L316.90,808.20 L322.70,811.90 L324.20,824.30 L333.00,831.60 L346.10,836.00 L360.70,843.30 L375.00,851.40 L392.50,858.00 L410.00,861.60 L437.00,861.60 L437.00,886.40 L404.20,886.40 L392.50,881.30 L375.00,876.20 L360.70,869.50 L350.50,860.80 L337.30,852.00 L324.20,841.80 L322.70,822.80 L311.00,814.00 Z" fill="rgba(100,190,215,0.36)" stroke="none" stroke-width="1"/>
<line x1="301.80" y1="865.80" x2="384.50" y2="865.80" stroke="#111" stroke-width="1.3" stroke-dasharray="5 3.6"/>
<line x1="384.50" y1="865.80" x2="384.50" y2="927.50" stroke="#111" stroke-width="1.3" stroke-dasharray="5 3.6"/>
<path d="M301.20,805.30 L306.00,805.30 L306.00,805.30 L306.00,805.30 L306.00,806.00 L309.60,806.00 L309.60,809.70 L315.40,809.70 L315.40,812.60 L324.20,812.60 L324.20,813.30 L325.70,813.30 L325.70,817.00 L333.00,817.00 L333.00,818.40 L338.80,818.40 L338.80,822.80 L344.60,822.80 L344.60,823.50 L346.80,823.50 L346.80,828.70 L349.70,828.70 L349.70,835.20 L353.40,835.20 L353.40,839.60 L373.80,839.60 L373.80,839.60 L376.80,839.60 L376.80,841.80 L382.60,841.80 L382.60,844.00 L386.70,844.00 L386.70,844.80 L391.00,844.80 L391.00,846.30 L393.20,846.30 L393.20,851.40 L445.80,851.40 L445.80,852.40" fill="none" stroke="#e0463a" stroke-width="1.2"/>
<path d="M301.20,805.30 L309.60,805.30 L309.60,805.30 L311.00,805.30 L311.00,810.40 L316.90,810.40 L316.90,812.60 L322.70,812.60 L322.70,817.00 L323.50,817.00 L323.50,833.00 L328.60,833.00 L328.60,837.40 L337.30,837.40 L337.30,841.10 L344.60,841.10 L344.60,846.20 L350.50,846.20 L350.50,850.60 L357.80,850.60 L357.80,854.20 L363.60,854.20 L363.60,860.80 L372.40,860.80 L372.40,864.40 L382.60,864.40 L382.60,865.90 L388.40,865.90 L388.40,868.10 L391.00,868.10 L391.00,869.60 L401.30,869.60 L401.30,871.10 L402.70,871.10 L402.70,874.70 L439.20,874.70 L439.20,875.20" fill="none" stroke="#2fa3c4" stroke-width="1.2"/>
<line x1="405.00" y1="849.60" x2="405.00" y2="855.20" stroke="#e0463a" stroke-width="1.1"/>
<line x1="406.50" y1="849.60" x2="406.50" y2="855.20" stroke="#e0463a" stroke-width="1.1"/>
<line x1="410.00" y1="849.60" x2="410.00" y2="855.20" stroke="#e0463a" stroke-width="1.1"/>
<line x1="412.00" y1="849.60" x2="412.00" y2="855.20" stroke="#e0463a" stroke-width="1.1"/>
<line x1="414.00" y1="849.60" x2="414.00" y2="855.20" stroke="#e0463a" stroke-width="1.1"/>
<line x1="418.00" y1="849.60" x2="418.00" y2="855.20" stroke="#e0463a" stroke-width="1.1"/>
<line x1="419.50" y1="849.60" x2="419.50" y2="855.20" stroke="#e0463a" stroke-width="1.1"/>
<line x1="421.00" y1="849.60" x2="421.00" y2="855.20" stroke="#e0463a" stroke-width="1.1"/>
<line x1="423.00" y1="849.60" x2="423.00" y2="855.20" stroke="#e0463a" stroke-width="1.1"/>
<line x1="425.00" y1="849.60" x2="425.00" y2="855.20" stroke="#e0463a" stroke-width="1.1"/>
<line x1="428.00" y1="849.60" x2="428.00" y2="855.20" stroke="#e0463a" stroke-width="1.1"/>
<line x1="430.00" y1="849.60" x2="430.00" y2="855.20" stroke="#e0463a" stroke-width="1.1"/>
<line x1="432.00" y1="849.60" x2="432.00" y2="855.20" stroke="#e0463a" stroke-width="1.1"/>
<line x1="434.00" y1="849.60" x2="434.00" y2="855.20" stroke="#e0463a" stroke-width="1.1"/>
<line x1="436.00" y1="849.60" x2="436.00" y2="855.20" stroke="#e0463a" stroke-width="1.1"/>
<line x1="438.00" y1="849.60" x2="438.00" y2="855.20" stroke="#e0463a" stroke-width="1.1"/>
<line x1="440.00" y1="849.60" x2="440.00" y2="855.20" stroke="#e0463a" stroke-width="1.1"/>
<line x1="442.00" y1="849.60" x2="442.00" y2="855.20" stroke="#e0463a" stroke-width="1.1"/>
<line x1="402.70" y1="872.40" x2="402.70" y2="878.00" stroke="#2fa3c4" stroke-width="1.1"/>
<line x1="404.50" y1="872.40" x2="404.50" y2="878.00" stroke="#2fa3c4" stroke-width="1.1"/>
<line x1="406.00" y1="872.40" x2="406.00" y2="878.00" stroke="#2fa3c4" stroke-width="1.1"/>
<line x1="408.00" y1="872.40" x2="408.00" y2="878.00" stroke="#2fa3c4" stroke-width="1.1"/>
<line x1="410.50" y1="872.40" x2="410.50" y2="878.00" stroke="#2fa3c4" stroke-width="1.1"/>
<line x1="412.00" y1="872.40" x2="412.00" y2="878.00" stroke="#2fa3c4" stroke-width="1.1"/>
<line x1="414.00" y1="872.40" x2="414.00" y2="878.00" stroke="#2fa3c4" stroke-width="1.1"/>
<line x1="420.00" y1="872.40" x2="420.00" y2="878.00" stroke="#2fa3c4" stroke-width="1.1"/>
<line x1="423.00" y1="872.40" x2="423.00" y2="878.00" stroke="#2fa3c4" stroke-width="1.1"/>
<line x1="425.00" y1="872.40" x2="425.00" y2="878.00" stroke="#2fa3c4" stroke-width="1.1"/>
<line x1="427.00" y1="872.40" x2="427.00" y2="878.00" stroke="#2fa3c4" stroke-width="1.1"/>
<line x1="429.00" y1="872.40" x2="429.00" y2="878.00" stroke="#2fa3c4" stroke-width="1.1"/>
<line x1="431.00" y1="872.40" x2="431.00" y2="878.00" stroke="#2fa3c4" stroke-width="1.1"/>
<line x1="433.00" y1="872.40" x2="433.00" y2="878.00" stroke="#2fa3c4" stroke-width="1.1"/>
<line x1="435.00" y1="872.40" x2="435.00" y2="878.00" stroke="#2fa3c4" stroke-width="1.1"/>
<line x1="437.00" y1="872.40" x2="437.00" y2="878.00" stroke="#2fa3c4" stroke-width="1.1"/>
<rect x="293.10" y="798.30" width="176.00" height="135.40" fill="none" stroke="#333" stroke-width="1.0"/>
<line x1="290.20" y1="927.00" x2="293.10" y2="927.00" stroke="#333" stroke-width="1.0"/>
<text x="278.70" y="929.80" font-size="12.0" text-anchor="middle" fill="#4a4a4a">0</text>
<line x1="290.20" y1="896.32" x2="293.10" y2="896.32" stroke="#333" stroke-width="1.0"/>
<text x="278.70" y="899.12" font-size="12.0" text-anchor="middle" fill="#4a4a4a">25</text>
<line x1="290.20" y1="865.63" x2="293.10" y2="865.63" stroke="#333" stroke-width="1.0"/>
<text x="278.70" y="868.43" font-size="12.0" text-anchor="middle" fill="#4a4a4a">50</text>
<line x1="290.20" y1="834.95" x2="293.10" y2="834.95" stroke="#333" stroke-width="1.0"/>
<text x="278.70" y="837.75" font-size="12.0" text-anchor="middle" fill="#4a4a4a">75</text>
<line x1="290.20" y1="804.27" x2="293.10" y2="804.27" stroke="#333" stroke-width="1.0"/>
<text x="278.70" y="807.07" font-size="12.0" text-anchor="middle" fill="#4a4a4a">100</text>
<line x1="301.80" y1="933.70" x2="301.80" y2="936.60" stroke="#333" stroke-width="1.0"/>
<text x="301.80" y="944.30" font-size="9.4" text-anchor="middle" fill="#333">0</text>
<line x1="333.80" y1="933.70" x2="333.80" y2="936.60" stroke="#333" stroke-width="1.0"/>
<text x="333.80" y="944.30" font-size="9.4" text-anchor="middle" fill="#333">20</text>
<line x1="365.80" y1="933.70" x2="365.80" y2="936.60" stroke="#333" stroke-width="1.0"/>
<text x="365.80" y="944.30" font-size="9.4" text-anchor="middle" fill="#333">40</text>
<line x1="397.80" y1="933.70" x2="397.80" y2="936.60" stroke="#333" stroke-width="1.0"/>
<text x="397.80" y="944.30" font-size="9.4" text-anchor="middle" fill="#333">60</text>
<line x1="429.80" y1="933.70" x2="429.80" y2="936.60" stroke="#333" stroke-width="1.0"/>
<text x="429.80" y="944.30" font-size="9.4" text-anchor="middle" fill="#333">80</text>
<line x1="461.80" y1="933.70" x2="461.80" y2="936.60" stroke="#333" stroke-width="1.0"/>
<text x="461.80" y="944.30" font-size="9.4" text-anchor="middle" fill="#333">100</text>
<text x="388.40" y="956.60" font-size="13.4" text-anchor="middle" fill="#1a1a1a">Time</text>
<text x="443.40" y="813.60" font-size="16.2" text-anchor="middle" fill="#1a1a1a">n=163</text>
<text x="299.60" y="923.80" font-size="16.2" text-anchor="start" fill="#1a1a1a">p=0.015</text>
<text x="264.20" y="877.70" font-size="16.7" text-anchor="middle" fill="#1a1a1a" transform="rotate(-90 264.2 877.7)">Survival probability (%)</text>
<text x="293.60" y="970.20" font-size="12.8" text-anchor="start" fill="#1a1a1a">Number at risk</text>
<rect x="293.40" y="973.90" width="172.80" height="51.00" fill="none" stroke="#555" stroke-width="1.0"/>
<text x="301.80" y="991.30" font-size="10.0" text-anchor="middle" fill="#1a1a1a">75</text>
<text x="301.80" y="1014.70" font-size="10.0" text-anchor="middle" fill="#1a1a1a">88</text>
<line x1="301.80" y1="1024.90" x2="301.80" y2="1027.80" stroke="#333" stroke-width="1.0"/>
<text x="301.80" y="1037.20" font-size="10.0" text-anchor="middle" fill="#333">0</text>
<text x="333.80" y="991.30" font-size="10.0" text-anchor="middle" fill="#1a1a1a">67</text>
<text x="333.80" y="1014.70" font-size="10.0" text-anchor="middle" fill="#1a1a1a">63</text>
<line x1="333.80" y1="1024.90" x2="333.80" y2="1027.80" stroke="#333" stroke-width="1.0"/>
<text x="333.80" y="1037.20" font-size="10.0" text-anchor="middle" fill="#333">20</text>
<text x="365.80" y="991.30" font-size="10.0" text-anchor="middle" fill="#1a1a1a">54</text>
<text x="365.80" y="1014.70" font-size="10.0" text-anchor="middle" fill="#1a1a1a">48</text>
<line x1="365.80" y1="1024.90" x2="365.80" y2="1027.80" stroke="#333" stroke-width="1.0"/>
<text x="365.80" y="1037.20" font-size="10.0" text-anchor="middle" fill="#333">40</text>
<text x="397.80" y="991.30" font-size="10.0" text-anchor="middle" fill="#1a1a1a">47</text>
<text x="397.80" y="1014.70" font-size="10.0" text-anchor="middle" fill="#1a1a1a">41</text>
<line x1="397.80" y1="1024.90" x2="397.80" y2="1027.80" stroke="#333" stroke-width="1.0"/>
<text x="397.80" y="1037.20" font-size="10.0" text-anchor="middle" fill="#333">60</text>
<text x="429.80" y="991.30" font-size="10.0" text-anchor="middle" fill="#1a1a1a">19</text>
<text x="429.80" y="1014.70" font-size="10.0" text-anchor="middle" fill="#1a1a1a">17</text>
<line x1="429.80" y1="1024.90" x2="429.80" y2="1027.80" stroke="#333" stroke-width="1.0"/>
<text x="429.80" y="1037.20" font-size="10.0" text-anchor="middle" fill="#333">80</text>
<text x="461.80" y="991.30" font-size="10.0" text-anchor="middle" fill="#1a1a1a">0</text>
<text x="461.80" y="1014.70" font-size="10.0" text-anchor="middle" fill="#1a1a1a">0</text>
<line x1="461.80" y1="1024.90" x2="461.80" y2="1027.80" stroke="#333" stroke-width="1.0"/>
<text x="461.80" y="1037.20" font-size="10.0" text-anchor="middle" fill="#333">100</text>
<line x1="290.80" y1="987.60" x2="293.40" y2="987.60" stroke="#333" stroke-width="0.9"/>
<line x1="290.80" y1="1011.00" x2="293.40" y2="1011.00" stroke="#333" stroke-width="0.9"/>
<text x="264.40" y="990.10" font-size="8.2" text-anchor="middle" fill="#e3242b">Circ-0075305</text>
<text x="264.40" y="999.60" font-size="8.2" text-anchor="middle" fill="#e3242b">High</text>
<text x="265.60" y="1013.90" font-size="8.2" text-anchor="middle" fill="#2e64a8">Circ-0075305</text>
<text x="265.60" y="1023.40" font-size="8.2" text-anchor="middle" fill="#2e64a8">Low</text>
<text x="388.40" y="1047.50" font-size="12.6" text-anchor="middle" fill="#1a1a1a">Time</text>
<text x="481.50" y="752.00" font-size="17" text-anchor="start" fill="#231815" font-weight="bold">j</text>
<text x="594.20" y="782.20" font-size="16.0" text-anchor="middle" fill="#1a1a1a">HGC-27</text>
<rect x="526.50" y="799.70" width="18.80" height="8.80" fill="#569cf8" stroke="#222" stroke-width="0.8"/>
<text x="555.40" y="809.60" font-size="14.9" text-anchor="start" fill="#1a1a1a">Cytoplasm</text>
<rect x="526.50" y="820.00" width="18.80" height="8.90" fill="#fcbe7e" stroke="#222" stroke-width="0.8"/>
<text x="555.40" y="829.40" font-size="14.9" text-anchor="start" fill="#1a1a1a">Nuclear</text>
<text x="490.00" y="920.70" font-size="13.9" text-anchor="middle" fill="#1a1a1a" transform="rotate(-90 490.0 920.7)">Relative abundant (100%)</text>
<line x1="519.60" y1="833.60" x2="519.60" y2="1002.30" stroke="#1a1a1a" stroke-width="1.6"/>
<line x1="518.80" y1="1001.50" x2="683.60" y2="1001.50" stroke="#1a1a1a" stroke-width="1.6"/>
<line x1="515.60" y1="1001.50" x2="519.60" y2="1001.50" stroke="#1a1a1a" stroke-width="1.3"/>
<text x="514.00" y="1005.70" font-size="11.9" text-anchor="end" fill="#1a1a1a">0.0</text>
<line x1="515.60" y1="968.10" x2="519.60" y2="968.10" stroke="#1a1a1a" stroke-width="1.3"/>
<text x="514.00" y="972.30" font-size="11.9" text-anchor="end" fill="#1a1a1a">0.2</text>
<line x1="515.60" y1="934.70" x2="519.60" y2="934.70" stroke="#1a1a1a" stroke-width="1.3"/>
<text x="514.00" y="938.90" font-size="11.9" text-anchor="end" fill="#1a1a1a">0.4</text>
<line x1="515.60" y1="901.30" x2="519.60" y2="901.30" stroke="#1a1a1a" stroke-width="1.3"/>
<text x="514.00" y="905.50" font-size="11.9" text-anchor="end" fill="#1a1a1a">0.6</text>
<line x1="515.60" y1="867.90" x2="519.60" y2="867.90" stroke="#1a1a1a" stroke-width="1.3"/>
<text x="514.00" y="872.10" font-size="11.9" text-anchor="end" fill="#1a1a1a">0.8</text>
<line x1="515.60" y1="834.50" x2="519.60" y2="834.50" stroke="#1a1a1a" stroke-width="1.3"/>
<text x="514.00" y="838.70" font-size="11.9" text-anchor="end" fill="#1a1a1a">1.0</text>
<rect x="527.10" y="877.92" width="14.10" height="122.78" fill="#569cf8" stroke="#333" stroke-width="0.8"/>
<line x1="534.15" y1="871.24" x2="534.15" y2="886.27" stroke="#1a1a1a" stroke-width="0.9"/>
<line x1="531.15" y1="871.24" x2="537.15" y2="871.24" stroke="#1a1a1a" stroke-width="0.9"/>
<line x1="531.15" y1="886.27" x2="537.15" y2="886.27" stroke="#1a1a1a" stroke-width="0.9"/>
<circle cx="534.15" cy="871.24" r="2.40" fill="#111" stroke="none" stroke-width="1"/>
<circle cx="534.15" cy="877.92" r="2.40" fill="#111" stroke="none" stroke-width="1"/>
<circle cx="534.15" cy="886.27" r="2.40" fill="#111" stroke="none" stroke-width="1"/>
<rect x="548.50" y="958.58" width="14.40" height="42.12" fill="#fcbe7e" stroke="#333" stroke-width="0.8"/>
<line x1="555.70" y1="954.07" x2="555.70" y2="963.26" stroke="#1a1a1a" stroke-width="0.9"/>
<line x1="552.70" y1="954.07" x2="558.70" y2="954.07" stroke="#1a1a1a" stroke-width="0.9"/>
<line x1="552.70" y1="963.26" x2="558.70" y2="963.26" stroke="#1a1a1a" stroke-width="0.9"/>
<circle cx="560.40" cy="954.07" r="2.40" fill="#111" stroke="none" stroke-width="1"/>
<circle cx="555.70" cy="957.75" r="2.40" fill="#111" stroke="none" stroke-width="1"/>
<circle cx="555.70" cy="963.26" r="2.40" fill="#111" stroke="none" stroke-width="1"/>
<rect x="585.20" y="889.61" width="13.50" height="111.09" fill="#569cf8" stroke="#333" stroke-width="0.8"/>
<line x1="591.95" y1="886.94" x2="591.95" y2="891.95" stroke="#1a1a1a" stroke-width="0.9"/>
<line x1="588.95" y1="886.94" x2="594.95" y2="886.94" stroke="#1a1a1a" stroke-width="0.9"/>
<line x1="588.95" y1="891.95" x2="594.95" y2="891.95" stroke="#1a1a1a" stroke-width="0.9"/>
<circle cx="587.45" cy="891.95" r="2.40" fill="#111" stroke="none" stroke-width="1"/>
<circle cx="591.95" cy="886.94" r="2.40" fill="#111" stroke="none" stroke-width="1"/>
<circle cx="596.35" cy="888.94" r="2.40" fill="#111" stroke="none" stroke-width="1"/>
<rect x="606.50" y="947.06" width="14.20" height="53.64" fill="#fcbe7e" stroke="#333" stroke-width="0.8"/>
<line x1="613.60" y1="940.04" x2="613.60" y2="950.90" stroke="#1a1a1a" stroke-width="0.9"/>
<line x1="610.60" y1="940.04" x2="616.60" y2="940.04" stroke="#1a1a1a" stroke-width="0.9"/>
<line x1="610.60" y1="950.90" x2="616.60" y2="950.90" stroke="#1a1a1a" stroke-width="0.9"/>
<circle cx="613.60" cy="940.04" r="2.40" fill="#111" stroke="none" stroke-width="1"/>
<circle cx="609.30" cy="950.90" r="2.40" fill="#111" stroke="none" stroke-width="1"/>
<circle cx="618.50" cy="949.06" r="2.40" fill="#111" stroke="none" stroke-width="1"/>
<rect x="642.90" y="966.00" width="13.90" height="34.70" fill="#569cf8" stroke="#333" stroke-width="0.8"/>
<line x1="649.85" y1="961.42" x2="649.85" y2="968.93" stroke="#1a1a1a" stroke-width="0.9"/>
<line x1="646.85" y1="961.42" x2="652.85" y2="961.42" stroke="#1a1a1a" stroke-width="0.9"/>
<line x1="646.85" y1="968.93" x2="652.85" y2="968.93" stroke="#1a1a1a" stroke-width="0.9"/>
<circle cx="649.85" cy="961.42" r="2.40" fill="#111" stroke="none" stroke-width="1"/>
<circle cx="645.25" cy="968.93" r="2.40" fill="#111" stroke="none" stroke-width="1"/>
<circle cx="654.45" cy="965.93" r="2.40" fill="#111" stroke="none" stroke-width="1"/>
<rect x="664.60" y="870.91" width="14.10" height="129.79" fill="#fcbe7e" stroke="#333" stroke-width="0.8"/>
<line x1="671.65" y1="852.87" x2="671.65" y2="889.61" stroke="#1a1a1a" stroke-width="0.9"/>
<line x1="668.65" y1="852.87" x2="674.65" y2="852.87" stroke="#1a1a1a" stroke-width="0.9"/>
<line x1="668.65" y1="889.61" x2="674.65" y2="889.61" stroke="#1a1a1a" stroke-width="0.9"/>
<circle cx="671.65" cy="852.87" r="2.40" fill="#111" stroke="none" stroke-width="1"/>
<circle cx="671.65" cy="869.57" r="2.40" fill="#111" stroke="none" stroke-width="1"/>
<circle cx="671.65" cy="889.61" r="2.40" fill="#111" stroke="none" stroke-width="1"/>
<line x1="544.70" y1="1001.50" x2="544.70" y2="1007.20" stroke="#1a1a1a" stroke-width="1.6"/>
<text x="544.70" y="1025.00" font-size="11.4" text-anchor="middle" fill="#1a1a1a">Circ-0075305</text>
<line x1="602.80" y1="1001.50" x2="602.80" y2="1007.20" stroke="#1a1a1a" stroke-width="1.6"/>
<text x="602.80" y="1025.00" font-size="11.4" text-anchor="middle" fill="#1a1a1a">GAPDH</text>
<line x1="660.50" y1="1001.50" x2="660.50" y2="1007.20" stroke="#1a1a1a" stroke-width="1.6"/>
<text x="660.50" y="1025.00" font-size="11.4" text-anchor="middle" fill="#1a1a1a">U6</text>
<line x1="534.30" y1="862.50" x2="555.40" y2="862.50" stroke="#444" stroke-width="1.6"/>
<path d="M537.35,852.40L537.35,858.60M534.67,853.95L540.03,857.05M540.03,853.95L534.67,857.05" fill="none" stroke="#111" stroke-width="1.3"/>
<circle cx="537.35" cy="855.50" r="1.18" fill="#111" stroke="none" stroke-width="1"/>
<path d="M545.65,852.40L545.65,858.60M542.97,853.95L548.33,857.05M548.33,853.95L542.97,857.05" fill="none" stroke="#111" stroke-width="1.3"/>
<circle cx="545.65" cy="855.50" r="1.18" fill="#111" stroke="none" stroke-width="1"/>
<path d="M553.95,852.40L553.95,858.60M551.27,853.95L556.63,857.05M556.63,853.95L551.27,857.05" fill="none" stroke="#111" stroke-width="1.3"/>
<circle cx="553.95" cy="855.50" r="1.18" fill="#111" stroke="none" stroke-width="1"/>
<line x1="592.40" y1="878.50" x2="613.40" y2="878.50" stroke="#444" stroke-width="1.6"/>
<path d="M595.40,868.40L595.40,874.60M592.72,869.95L598.08,873.05M598.08,869.95L592.72,873.05" fill="none" stroke="#111" stroke-width="1.3"/>
<circle cx="595.40" cy="871.50" r="1.18" fill="#111" stroke="none" stroke-width="1"/>
<path d="M603.70,868.40L603.70,874.60M601.02,869.95L606.38,873.05M606.38,869.95L601.02,873.05" fill="none" stroke="#111" stroke-width="1.3"/>
<circle cx="603.70" cy="871.50" r="1.18" fill="#111" stroke="none" stroke-width="1"/>
<path d="M612.00,868.40L612.00,874.60M609.32,869.95L614.68,873.05M614.68,869.95L609.32,873.05" fill="none" stroke="#111" stroke-width="1.3"/>
<circle cx="612.00" cy="871.50" r="1.18" fill="#111" stroke="none" stroke-width="1"/>
<line x1="651.40" y1="846.10" x2="674.60" y2="846.10" stroke="#444" stroke-width="1.6"/>
<path d="M655.50,836.00L655.50,842.20M652.82,837.55L658.18,840.65M658.18,837.55L652.82,840.65" fill="none" stroke="#111" stroke-width="1.3"/>
<circle cx="655.50" cy="839.10" r="1.18" fill="#111" stroke="none" stroke-width="1"/>
<path d="M663.80,836.00L663.80,842.20M661.12,837.55L666.48,840.65M666.48,837.55L661.12,840.65" fill="none" stroke="#111" stroke-width="1.3"/>
<circle cx="663.80" cy="839.10" r="1.18" fill="#111" stroke="none" stroke-width="1"/>
<path d="M672.10,836.00L672.10,842.20M669.42,837.55L674.78,840.65M674.78,837.55L669.42,840.65" fill="none" stroke="#111" stroke-width="1.3"/>
<circle cx="672.10" cy="839.10" r="1.18" fill="#111" stroke="none" stroke-width="1"/>
</svg>
</body></html>
